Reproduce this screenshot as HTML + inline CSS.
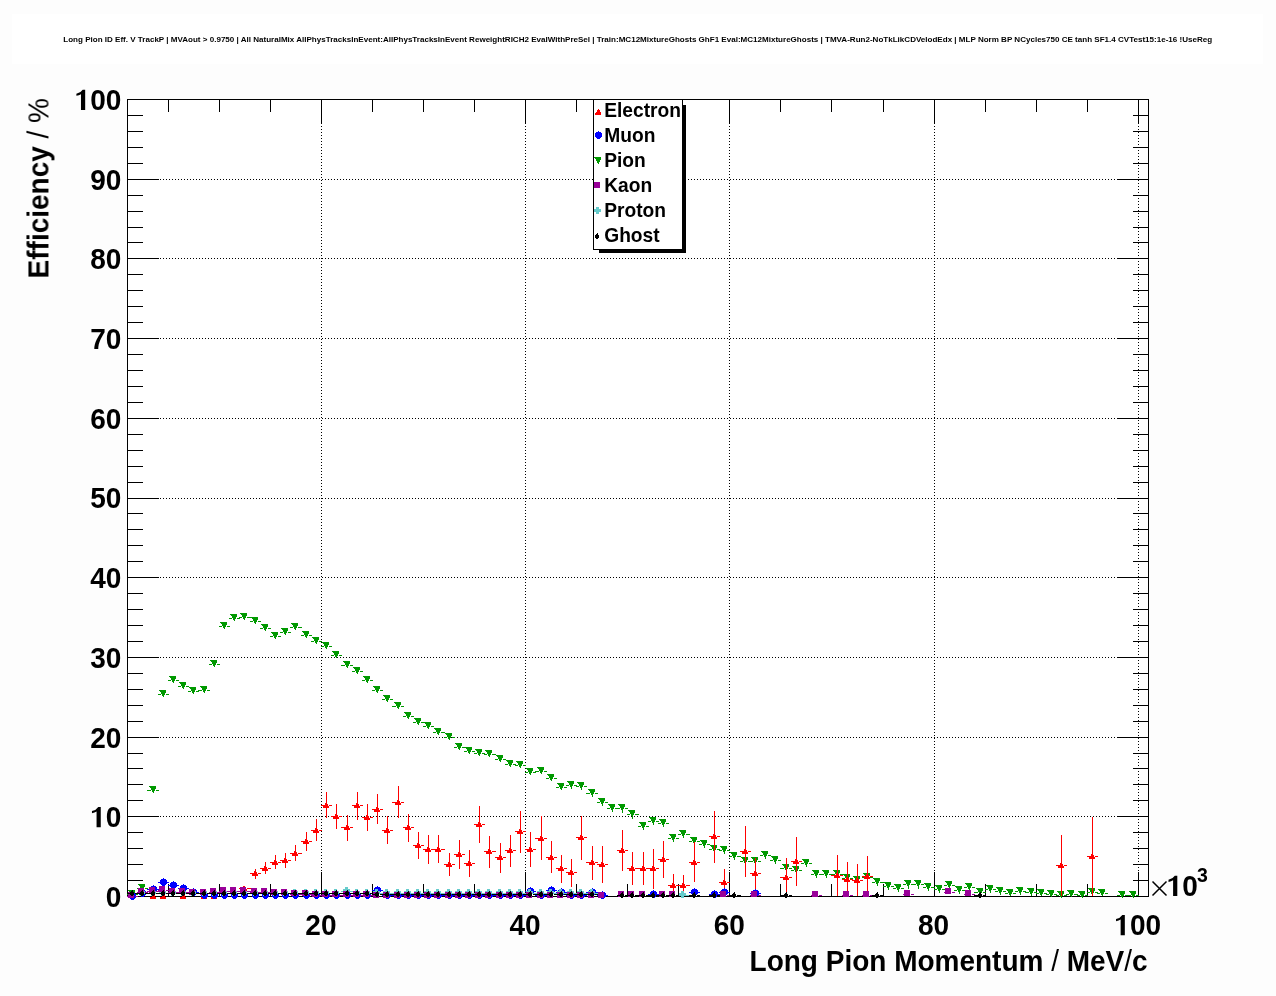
<!DOCTYPE html>
<html><head><meta charset="utf-8"><title>Long Pion ID Eff</title><style>
html,body{margin:0;padding:0;background:#fdfdfd;width:1276px;height:996px;overflow:hidden}
svg{display:block;will-change:transform}
text{font-family:"Liberation Sans",sans-serif;font-weight:bold;fill:#000}
</style></head><body>
<svg width="1276" height="996" viewBox="0 0 1276 996">
<rect x="12" y="14" width="1251" height="50" fill="#ffffff"/>
<text x="637.7" y="41.9" font-size="7.9" text-anchor="middle" textLength="1148.8" lengthAdjust="spacingAndGlyphs">Long Pion ID Eff. V TrackP | MVAout &gt; 0.9750 | All NaturalMix AllPhysTracksInEvent:AllPhysTracksInEvent ReweightRICH2 EvalWithPreSel | Train:MC12MixtureGhosts GhF1 Eval:MC12MixtureGhosts | TMVA-Run2-NoTkLikCDVelodEdx | MLP Norm BP NCycles750 CE tanh SF1.4 CVTest15:1e-16 !UseReg</text>
<rect x="127.5" y="99.5" width="1021.0" height="797.0" fill="#ffffff"/>
<path d="M321.5 100.0V896.0M525.5 100.0V896.0M729.5 100.0V896.0M934.5 100.0V896.0M1138.5 100.0V896.0M128.0 816.5H1148.0M128.0 737.5H1148.0M128.0 657.5H1148.0M128.0 577.5H1148.0M128.0 498.5H1148.0M128.0 418.5H1148.0M128.0 338.5H1148.0M128.0 258.5H1148.0M128.0 179.5H1148.0" stroke="#000" stroke-width="1" stroke-dasharray="1 2" stroke-dashoffset="1" shape-rendering="crispEdges" fill="none"/>
<rect x="127.5" y="99.5" width="1021.0" height="797.0" fill="none" stroke="#000" stroke-width="1" shape-rendering="crispEdges"/>
<path d="M168.5 896.5V883.5M168.5 99.5V111.5M219.5 896.5V883.5M219.5 99.5V111.5M270.5 896.5V883.5M270.5 99.5V111.5M321.5 896.5V871.5M321.5 99.5V123.5M372.5 896.5V883.5M372.5 99.5V111.5M423.5 896.5V883.5M423.5 99.5V111.5M474.5 896.5V883.5M474.5 99.5V111.5M525.5 896.5V871.5M525.5 99.5V123.5M576.5 896.5V883.5M576.5 99.5V111.5M627.5 896.5V883.5M627.5 99.5V111.5M678.5 896.5V883.5M678.5 99.5V111.5M729.5 896.5V871.5M729.5 99.5V123.5M780.5 896.5V883.5M780.5 99.5V111.5M831.5 896.5V883.5M831.5 99.5V111.5M883.5 896.5V883.5M883.5 99.5V111.5M934.5 896.5V871.5M934.5 99.5V123.5M985.5 896.5V883.5M985.5 99.5V111.5M1036.5 896.5V883.5M1036.5 99.5V111.5M1087.5 896.5V883.5M1087.5 99.5V111.5M1138.5 896.5V871.5M1138.5 99.5V123.5M127.5 896.5H158.5M1148.5 896.5H1117.5M127.5 880.5H142.5M1148.5 880.5H1132.5M127.5 864.5H142.5M1148.5 864.5H1132.5M127.5 848.5H142.5M1148.5 848.5H1132.5M127.5 832.5H142.5M1148.5 832.5H1132.5M127.5 816.5H158.5M1148.5 816.5H1117.5M127.5 800.5H142.5M1148.5 800.5H1132.5M127.5 784.5H142.5M1148.5 784.5H1132.5M127.5 768.5H142.5M1148.5 768.5H1132.5M127.5 753.5H142.5M1148.5 753.5H1132.5M127.5 737.5H158.5M1148.5 737.5H1117.5M127.5 721.5H142.5M1148.5 721.5H1132.5M127.5 705.5H142.5M1148.5 705.5H1132.5M127.5 689.5H142.5M1148.5 689.5H1132.5M127.5 673.5H142.5M1148.5 673.5H1132.5M127.5 657.5H158.5M1148.5 657.5H1117.5M127.5 641.5H142.5M1148.5 641.5H1132.5M127.5 625.5H142.5M1148.5 625.5H1132.5M127.5 609.5H142.5M1148.5 609.5H1132.5M127.5 593.5H142.5M1148.5 593.5H1132.5M127.5 577.5H158.5M1148.5 577.5H1117.5M127.5 561.5H142.5M1148.5 561.5H1132.5M127.5 545.5H142.5M1148.5 545.5H1132.5M127.5 529.5H142.5M1148.5 529.5H1132.5M127.5 513.5H142.5M1148.5 513.5H1132.5M127.5 498.5H158.5M1148.5 498.5H1117.5M127.5 482.5H142.5M1148.5 482.5H1132.5M127.5 466.5H142.5M1148.5 466.5H1132.5M127.5 450.5H142.5M1148.5 450.5H1132.5M127.5 434.5H142.5M1148.5 434.5H1132.5M127.5 418.5H158.5M1148.5 418.5H1117.5M127.5 402.5H142.5M1148.5 402.5H1132.5M127.5 386.5H142.5M1148.5 386.5H1132.5M127.5 370.5H142.5M1148.5 370.5H1132.5M127.5 354.5H142.5M1148.5 354.5H1132.5M127.5 338.5H158.5M1148.5 338.5H1117.5M127.5 322.5H142.5M1148.5 322.5H1132.5M127.5 306.5H142.5M1148.5 306.5H1132.5M127.5 290.5H142.5M1148.5 290.5H1132.5M127.5 274.5H142.5M1148.5 274.5H1132.5M127.5 258.5H158.5M1148.5 258.5H1117.5M127.5 242.5H142.5M1148.5 242.5H1132.5M127.5 227.5H142.5M1148.5 227.5H1132.5M127.5 211.5H142.5M1148.5 211.5H1132.5M127.5 195.5H142.5M1148.5 195.5H1132.5M127.5 179.5H158.5M1148.5 179.5H1117.5M127.5 163.5H142.5M1148.5 163.5H1132.5M127.5 147.5H142.5M1148.5 147.5H1132.5M127.5 131.5H142.5M1148.5 131.5H1132.5M127.5 115.5H142.5M1148.5 115.5H1132.5M127.5 99.5H158.5M1148.5 99.5H1117.5" stroke="#000" stroke-width="1" shape-rendering="crispEdges" fill="none"/>
<g clip-path="url(#clp)" shape-rendering="crispEdges">
<defs><clipPath id="clp"><rect x="0" y="0" width="1276" height="900.0"/></clipPath></defs>
<path d="M127 894h3v1h-3ZM135 894h3v1h-3Z" fill="#009900"/><path d="M128 890h7v1h-7ZM129 891h6v1h-6ZM130 892h5v1h-5ZM130 893h4v1h-4ZM131 894h3v1h-3ZM131 895h2v1h-2ZM132 896h1v1h-1Z" fill="#009900"/><path d="M137 888h3v1h-3ZM145 888h3v1h-3Z" fill="#009900"/><path d="M138 884h7v1h-7ZM139 885h6v1h-6ZM140 886h5v1h-5ZM140 887h4v1h-4ZM141 888h3v1h-3ZM141 889h2v1h-2ZM142 890h1v1h-1Z" fill="#009900"/><path d="M147 790h4v1h-4ZM156 790h3v1h-3Z" fill="#009900"/><path d="M149 786h7v1h-7ZM150 787h6v1h-6ZM151 788h5v1h-5ZM151 789h4v1h-4ZM152 790h3v1h-3ZM152 791h2v1h-2ZM153 792h1v1h-1Z" fill="#009900"/><path d="M158 694h3v1h-3ZM166 694h3v1h-3Z" fill="#009900"/><path d="M159 690h7v1h-7ZM160 691h6v1h-6ZM161 692h5v1h-5ZM161 693h4v1h-4ZM162 694h3v1h-3ZM162 695h2v1h-2ZM163 696h1v1h-1Z" fill="#009900"/><path d="M168 680h3v1h-3ZM176 680h3v1h-3Z" fill="#009900"/><path d="M169 676h7v1h-7ZM170 677h6v1h-6ZM171 678h5v1h-5ZM171 679h4v1h-4ZM172 680h3v1h-3ZM172 681h2v1h-2ZM173 682h1v1h-1Z" fill="#009900"/><path d="M178 686h3v1h-3ZM186 686h3v1h-3Z" fill="#009900"/><path d="M179 682h7v1h-7ZM180 683h6v1h-6ZM181 684h5v1h-5ZM181 685h4v1h-4ZM182 686h3v1h-3ZM182 687h2v1h-2ZM183 688h1v1h-1Z" fill="#009900"/><path d="M188 691h3v1h-3ZM196 691h3v1h-3Z" fill="#009900"/><path d="M189 687h7v1h-7ZM190 688h6v1h-6ZM191 689h5v1h-5ZM191 690h4v1h-4ZM192 691h3v1h-3ZM192 692h2v1h-2ZM193 693h1v1h-1Z" fill="#009900"/><path d="M198 690h4v1h-4ZM207 690h3v1h-3Z" fill="#009900"/><path d="M200 686h7v1h-7ZM201 687h6v1h-6ZM202 688h5v1h-5ZM202 689h4v1h-4ZM203 690h3v1h-3ZM203 691h2v1h-2ZM204 692h1v1h-1Z" fill="#009900"/><path d="M209 664h3v1h-3ZM217 664h3v1h-3Z" fill="#009900"/><path d="M210 660h7v1h-7ZM211 661h6v1h-6ZM212 662h5v1h-5ZM212 663h4v1h-4ZM213 664h3v1h-3ZM213 665h2v1h-2ZM214 666h1v1h-1Z" fill="#009900"/><path d="M219 626h3v1h-3ZM227 626h3v1h-3Z" fill="#009900"/><path d="M220 622h7v1h-7ZM221 623h6v1h-6ZM222 624h5v1h-5ZM222 625h4v1h-4ZM223 626h3v1h-3ZM223 627h2v1h-2ZM224 628h1v1h-1Z" fill="#009900"/><path d="M229 618h3v1h-3ZM237 618h3v1h-3Z" fill="#009900"/><path d="M230 614h7v1h-7ZM231 615h6v1h-6ZM232 616h5v1h-5ZM232 617h4v1h-4ZM233 618h3v1h-3ZM233 619h2v1h-2ZM234 620h1v1h-1Z" fill="#009900"/><path d="M239 617h3v1h-3ZM247 617h4v1h-4Z" fill="#009900"/><path d="M240 613h7v1h-7ZM241 614h6v1h-6ZM242 615h5v1h-5ZM242 616h4v1h-4ZM243 617h3v1h-3ZM243 618h2v1h-2ZM244 619h1v1h-1Z" fill="#009900"/><path d="M250 621h3v1h-3ZM258 621h3v1h-3Z" fill="#009900"/><path d="M251 617h7v1h-7ZM252 618h6v1h-6ZM253 619h5v1h-5ZM253 620h4v1h-4ZM254 621h3v1h-3ZM254 622h2v1h-2ZM255 623h1v1h-1Z" fill="#009900"/><path d="M260 628h3v1h-3ZM268 628h3v1h-3Z" fill="#009900"/><path d="M261 624h7v1h-7ZM262 625h6v1h-6ZM263 626h5v1h-5ZM263 627h4v1h-4ZM264 628h3v1h-3ZM264 629h2v1h-2ZM265 630h1v1h-1Z" fill="#009900"/><path d="M270 636h3v1h-3ZM278 636h3v1h-3Z" fill="#009900"/><path d="M271 632h7v1h-7ZM272 633h6v1h-6ZM273 634h5v1h-5ZM273 635h4v1h-4ZM274 636h3v1h-3ZM274 637h2v1h-2ZM275 638h1v1h-1Z" fill="#009900"/><path d="M280 632h3v1h-3ZM288 632h3v1h-3Z" fill="#009900"/><path d="M281 628h7v1h-7ZM282 629h6v1h-6ZM283 630h5v1h-5ZM283 631h4v1h-4ZM284 632h3v1h-3ZM284 633h2v1h-2ZM285 634h1v1h-1Z" fill="#009900"/><path d="M290 627h3v1h-3ZM298 627h4v1h-4Z" fill="#009900"/><path d="M291 623h7v1h-7ZM292 624h6v1h-6ZM293 625h5v1h-5ZM293 626h4v1h-4ZM294 627h3v1h-3ZM294 628h2v1h-2ZM295 629h1v1h-1Z" fill="#009900"/><path d="M301 635h3v1h-3ZM309 635h3v1h-3Z" fill="#009900"/><path d="M302 631h7v1h-7ZM303 632h6v1h-6ZM304 633h5v1h-5ZM304 634h4v1h-4ZM305 635h3v1h-3ZM305 636h2v1h-2ZM306 637h1v1h-1Z" fill="#009900"/><path d="M311 641h3v1h-3ZM319 641h3v1h-3Z" fill="#009900"/><path d="M312 637h7v1h-7ZM313 638h6v1h-6ZM314 639h5v1h-5ZM314 640h4v1h-4ZM315 641h3v1h-3ZM315 642h2v1h-2ZM316 643h1v1h-1Z" fill="#009900"/><path d="M321 646h3v1h-3ZM329 646h3v1h-3Z" fill="#009900"/><path d="M322 642h7v1h-7ZM323 643h6v1h-6ZM324 644h5v1h-5ZM324 645h4v1h-4ZM325 646h3v1h-3ZM325 647h2v1h-2ZM326 648h1v1h-1Z" fill="#009900"/><path d="M331 655h3v1h-3ZM339 655h3v1h-3Z" fill="#009900"/><path d="M332 651h7v1h-7ZM333 652h6v1h-6ZM334 653h5v1h-5ZM334 654h4v1h-4ZM335 655h3v1h-3ZM335 656h2v1h-2ZM336 657h1v1h-1Z" fill="#009900"/><path d="M341 665h4v1h-4ZM350 665h3v1h-3Z" fill="#009900"/><path d="M343 661h7v1h-7ZM344 662h6v1h-6ZM345 663h5v1h-5ZM345 664h4v1h-4ZM346 665h3v1h-3ZM346 666h2v1h-2ZM347 667h1v1h-1Z" fill="#009900"/><path d="M352 671h3v1h-3ZM360 671h3v1h-3Z" fill="#009900"/><path d="M353 667h7v1h-7ZM354 668h6v1h-6ZM355 669h5v1h-5ZM355 670h4v1h-4ZM356 671h3v1h-3ZM356 672h2v1h-2ZM357 673h1v1h-1Z" fill="#009900"/><path d="M362 680h3v1h-3ZM370 680h3v1h-3Z" fill="#009900"/><path d="M363 676h7v1h-7ZM364 677h6v1h-6ZM365 678h5v1h-5ZM365 679h4v1h-4ZM366 680h3v1h-3ZM366 681h2v1h-2ZM367 682h1v1h-1Z" fill="#009900"/><path d="M372 690h3v1h-3ZM380 690h3v1h-3Z" fill="#009900"/><path d="M373 686h7v1h-7ZM374 687h6v1h-6ZM375 688h5v1h-5ZM375 689h4v1h-4ZM376 690h3v1h-3ZM376 691h2v1h-2ZM377 692h1v1h-1Z" fill="#009900"/><path d="M382 699h3v1h-3ZM390 699h3v1h-3Z" fill="#009900"/><path d="M383 695h7v1h-7ZM384 696h6v1h-6ZM385 697h5v1h-5ZM385 698h4v1h-4ZM386 699h3v1h-3ZM386 700h2v1h-2ZM387 701h1v1h-1Z" fill="#009900"/><path d="M392 706h4v1h-4ZM401 706h3v1h-3Z" fill="#009900"/><path d="M394 702h7v1h-7ZM395 703h6v1h-6ZM396 704h5v1h-5ZM396 705h4v1h-4ZM397 706h3v1h-3ZM397 707h2v1h-2ZM398 708h1v1h-1Z" fill="#009900"/><path d="M403 716h3v1h-3ZM411 716h3v1h-3Z" fill="#009900"/><path d="M404 712h7v1h-7ZM405 713h6v1h-6ZM406 714h5v1h-5ZM406 715h4v1h-4ZM407 716h3v1h-3ZM407 717h2v1h-2ZM408 718h1v1h-1Z" fill="#009900"/><path d="M413 722h3v1h-3ZM421 722h3v1h-3Z" fill="#009900"/><path d="M414 718h7v1h-7ZM415 719h6v1h-6ZM416 720h5v1h-5ZM416 721h4v1h-4ZM417 722h3v1h-3ZM417 723h2v1h-2ZM418 724h1v1h-1Z" fill="#009900"/><path d="M423 726h3v1h-3ZM431 726h3v1h-3Z" fill="#009900"/><path d="M424 722h7v1h-7ZM425 723h6v1h-6ZM426 724h5v1h-5ZM426 725h4v1h-4ZM427 726h3v1h-3ZM427 727h2v1h-2ZM428 728h1v1h-1Z" fill="#009900"/><path d="M433 732h3v1h-3ZM441 732h4v1h-4Z" fill="#009900"/><path d="M434 728h7v1h-7ZM435 729h6v1h-6ZM436 730h5v1h-5ZM436 731h4v1h-4ZM437 732h3v1h-3ZM437 733h2v1h-2ZM438 734h1v1h-1Z" fill="#009900"/><path d="M444 737h3v1h-3ZM452 737h3v1h-3Z" fill="#009900"/><path d="M445 733h7v1h-7ZM446 734h6v1h-6ZM447 735h5v1h-5ZM447 736h4v1h-4ZM448 737h3v1h-3ZM448 738h2v1h-2ZM449 739h1v1h-1Z" fill="#009900"/><path d="M454 747h3v1h-3ZM462 747h3v1h-3Z" fill="#009900"/><path d="M455 743h7v1h-7ZM456 744h6v1h-6ZM457 745h5v1h-5ZM457 746h4v1h-4ZM458 747h3v1h-3ZM458 748h2v1h-2ZM459 749h1v1h-1Z" fill="#009900"/><path d="M464 751h3v1h-3ZM472 751h3v1h-3Z" fill="#009900"/><path d="M465 747h7v1h-7ZM466 748h6v1h-6ZM467 749h5v1h-5ZM467 750h4v1h-4ZM468 751h3v1h-3ZM468 752h2v1h-2ZM469 753h1v1h-1Z" fill="#009900"/><path d="M474 753h3v1h-3ZM482 753h3v1h-3Z" fill="#009900"/><path d="M475 749h7v1h-7ZM476 750h6v1h-6ZM477 751h5v1h-5ZM477 752h4v1h-4ZM478 753h3v1h-3ZM478 754h2v1h-2ZM479 755h1v1h-1Z" fill="#009900"/><path d="M484 754h3v1h-3ZM492 754h4v1h-4Z" fill="#009900"/><path d="M485 750h7v1h-7ZM486 751h6v1h-6ZM487 752h5v1h-5ZM487 753h4v1h-4ZM488 754h3v1h-3ZM488 755h2v1h-2ZM489 756h1v1h-1Z" fill="#009900"/><path d="M495 759h3v1h-3ZM503 759h3v1h-3Z" fill="#009900"/><path d="M496 755h7v1h-7ZM497 756h6v1h-6ZM498 757h5v1h-5ZM498 758h4v1h-4ZM499 759h3v1h-3ZM499 760h2v1h-2ZM500 761h1v1h-1Z" fill="#009900"/><path d="M505 764h3v1h-3ZM513 764h3v1h-3Z" fill="#009900"/><path d="M506 760h7v1h-7ZM507 761h6v1h-6ZM508 762h5v1h-5ZM508 763h4v1h-4ZM509 764h3v1h-3ZM509 765h2v1h-2ZM510 766h1v1h-1Z" fill="#009900"/><path d="M515 765h3v1h-3ZM523 765h3v1h-3Z" fill="#009900"/><path d="M516 761h7v1h-7ZM517 762h6v1h-6ZM518 763h5v1h-5ZM518 764h4v1h-4ZM519 765h3v1h-3ZM519 766h2v1h-2ZM520 767h1v1h-1Z" fill="#009900"/><path d="M525 772h3v1h-3ZM533 772h3v1h-3Z" fill="#009900"/><path d="M526 768h7v1h-7ZM527 769h6v1h-6ZM528 770h5v1h-5ZM528 771h4v1h-4ZM529 772h3v1h-3ZM529 773h2v1h-2ZM530 774h1v1h-1Z" fill="#009900"/><path d="M535 771h4v1h-4ZM544 771h3v1h-3Z" fill="#009900"/><path d="M537 767h7v1h-7ZM538 768h6v1h-6ZM539 769h5v1h-5ZM539 770h4v1h-4ZM540 771h3v1h-3ZM540 772h2v1h-2ZM541 773h1v1h-1Z" fill="#009900"/><path d="M546 778h3v1h-3ZM554 778h3v1h-3Z" fill="#009900"/><path d="M547 774h7v1h-7ZM548 775h6v1h-6ZM549 776h5v1h-5ZM549 777h4v1h-4ZM550 778h3v1h-3ZM550 779h2v1h-2ZM551 780h1v1h-1Z" fill="#009900"/><path d="M556 787h3v1h-3ZM564 787h3v1h-3Z" fill="#009900"/><path d="M557 783h7v1h-7ZM558 784h6v1h-6ZM559 785h5v1h-5ZM559 786h4v1h-4ZM560 787h3v1h-3ZM560 788h2v1h-2ZM561 789h1v1h-1Z" fill="#009900"/><path d="M566 785h3v1h-3ZM574 785h3v1h-3Z" fill="#009900"/><path d="M567 781h7v1h-7ZM568 782h6v1h-6ZM569 783h5v1h-5ZM569 784h4v1h-4ZM570 785h3v1h-3ZM570 786h2v1h-2ZM571 787h1v1h-1Z" fill="#009900"/><path d="M576 786h3v1h-3ZM584 786h3v1h-3Z" fill="#009900"/><path d="M577 782h7v1h-7ZM578 783h6v1h-6ZM579 784h5v1h-5ZM579 785h4v1h-4ZM580 786h3v1h-3ZM580 787h2v1h-2ZM581 788h1v1h-1Z" fill="#009900"/><path d="M586 793h4v1h-4ZM595 793h3v1h-3Z" fill="#009900"/><path d="M588 789h7v1h-7ZM589 790h6v1h-6ZM590 791h5v1h-5ZM590 792h4v1h-4ZM591 793h3v1h-3ZM591 794h2v1h-2ZM592 795h1v1h-1Z" fill="#009900"/><path d="M597 802h3v1h-3ZM605 802h3v1h-3Z" fill="#009900"/><path d="M598 798h7v1h-7ZM599 799h6v1h-6ZM600 800h5v1h-5ZM600 801h4v1h-4ZM601 802h3v1h-3ZM601 803h2v1h-2ZM602 804h1v1h-1Z" fill="#009900"/><path d="M607 808h3v1h-3ZM615 808h3v1h-3Z" fill="#009900"/><path d="M608 804h7v1h-7ZM609 805h6v1h-6ZM610 806h5v1h-5ZM610 807h4v1h-4ZM611 808h3v1h-3ZM611 809h2v1h-2ZM612 810h1v1h-1Z" fill="#009900"/><path d="M617 808h3v1h-3ZM625 808h3v1h-3Z" fill="#009900"/><path d="M618 804h7v1h-7ZM619 805h6v1h-6ZM620 806h5v1h-5ZM620 807h4v1h-4ZM621 808h3v1h-3ZM621 809h2v1h-2ZM622 810h1v1h-1Z" fill="#009900"/><path d="M627 814h3v1h-3ZM635 814h4v1h-4Z" fill="#009900"/><path d="M628 810h7v1h-7ZM629 811h6v1h-6ZM630 812h5v1h-5ZM630 813h4v1h-4ZM631 814h3v1h-3ZM631 815h2v1h-2ZM632 816h1v1h-1Z" fill="#009900"/><path d="M638 826h3v1h-3ZM646 826h3v1h-3Z" fill="#009900"/><path d="M639 822h7v1h-7ZM640 823h6v1h-6ZM641 824h5v1h-5ZM641 825h4v1h-4ZM642 826h3v1h-3ZM642 827h2v1h-2ZM643 828h1v1h-1Z" fill="#009900"/><path d="M648 821h3v1h-3ZM656 821h3v1h-3Z" fill="#009900"/><path d="M649 817h7v1h-7ZM650 818h6v1h-6ZM651 819h5v1h-5ZM651 820h4v1h-4ZM652 821h3v1h-3ZM652 822h2v1h-2ZM653 823h1v1h-1Z" fill="#009900"/><path d="M658 823h3v1h-3ZM666 823h3v1h-3Z" fill="#009900"/><path d="M659 819h7v1h-7ZM660 820h6v1h-6ZM661 821h5v1h-5ZM661 822h4v1h-4ZM662 823h3v1h-3ZM662 824h2v1h-2ZM663 825h1v1h-1Z" fill="#009900"/><path d="M668 838h3v1h-3ZM676 838h3v1h-3Z" fill="#009900"/><path d="M669 834h7v1h-7ZM670 835h6v1h-6ZM671 836h5v1h-5ZM671 837h4v1h-4ZM672 838h3v1h-3ZM672 839h2v1h-2ZM673 840h1v1h-1Z" fill="#009900"/><path d="M678 834h3v1h-3ZM686 834h4v1h-4Z" fill="#009900"/><path d="M679 830h7v1h-7ZM680 831h6v1h-6ZM681 832h5v1h-5ZM681 833h4v1h-4ZM682 834h3v1h-3ZM682 835h2v1h-2ZM683 836h1v1h-1Z" fill="#009900"/><path d="M689 841h3v1h-3ZM697 841h3v1h-3Z" fill="#009900"/><path d="M690 837h7v1h-7ZM691 838h6v1h-6ZM692 839h5v1h-5ZM692 840h4v1h-4ZM693 841h3v1h-3ZM693 842h2v1h-2ZM694 843h1v1h-1Z" fill="#009900"/><path d="M699 844h3v1h-3ZM707 844h3v1h-3Z" fill="#009900"/><path d="M700 840h7v1h-7ZM701 841h6v1h-6ZM702 842h5v1h-5ZM702 843h4v1h-4ZM703 844h3v1h-3ZM703 845h2v1h-2ZM704 846h1v1h-1Z" fill="#009900"/><path d="M709 849h3v1h-3ZM717 849h3v1h-3Z" fill="#009900"/><path d="M710 845h7v1h-7ZM711 846h6v1h-6ZM712 847h5v1h-5ZM712 848h4v1h-4ZM713 849h3v1h-3ZM713 850h2v1h-2ZM714 851h1v1h-1Z" fill="#009900"/><path d="M719 850h3v1h-3ZM727 850h3v1h-3Z" fill="#009900"/><path d="M720 846h7v1h-7ZM721 847h6v1h-6ZM722 848h5v1h-5ZM722 849h4v1h-4ZM723 850h3v1h-3ZM723 851h2v1h-2ZM724 852h1v1h-1Z" fill="#009900"/><path d="M729 856h3v1h-3ZM737 856h4v1h-4Z" fill="#009900"/><path d="M730 852h7v1h-7ZM731 853h6v1h-6ZM732 854h5v1h-5ZM732 855h4v1h-4ZM733 856h3v1h-3ZM733 857h2v1h-2ZM734 858h1v1h-1Z" fill="#009900"/><path d="M740 861h3v1h-3ZM748 861h3v1h-3Z" fill="#009900"/><path d="M741 857h7v1h-7ZM742 858h6v1h-6ZM743 859h5v1h-5ZM743 860h4v1h-4ZM744 861h3v1h-3ZM744 862h2v1h-2ZM745 863h1v1h-1Z" fill="#009900"/><path d="M750 861h3v1h-3ZM758 861h3v1h-3Z" fill="#009900"/><path d="M751 857h7v1h-7ZM752 858h6v1h-6ZM753 859h5v1h-5ZM753 860h4v1h-4ZM754 861h3v1h-3ZM754 862h2v1h-2ZM755 863h1v1h-1Z" fill="#009900"/><path d="M760 855h3v1h-3ZM768 855h3v1h-3Z" fill="#009900"/><path d="M761 851h7v1h-7ZM762 852h6v1h-6ZM763 853h5v1h-5ZM763 854h4v1h-4ZM764 855h3v1h-3ZM764 856h2v1h-2ZM765 857h1v1h-1Z" fill="#009900"/><path d="M770 860h3v1h-3ZM778 860h3v1h-3Z" fill="#009900"/><path d="M771 856h7v1h-7ZM772 857h6v1h-6ZM773 858h5v1h-5ZM773 859h4v1h-4ZM774 860h3v1h-3ZM774 861h2v1h-2ZM775 862h1v1h-1Z" fill="#009900"/><path d="M780 868h4v1h-4ZM789 868h3v1h-3Z" fill="#009900"/><path d="M782 864h7v1h-7ZM783 865h6v1h-6ZM784 866h5v1h-5ZM784 867h4v1h-4ZM785 868h3v1h-3ZM785 869h2v1h-2ZM786 870h1v1h-1Z" fill="#009900"/><path d="M791 870h3v1h-3ZM799 870h3v1h-3Z" fill="#009900"/><path d="M792 866h7v1h-7ZM793 867h6v1h-6ZM794 868h5v1h-5ZM794 869h4v1h-4ZM795 870h3v1h-3ZM795 871h2v1h-2ZM796 872h1v1h-1Z" fill="#009900"/><path d="M801 863h3v1h-3ZM809 863h3v1h-3Z" fill="#009900"/><path d="M802 859h7v1h-7ZM803 860h6v1h-6ZM804 861h5v1h-5ZM804 862h4v1h-4ZM805 863h3v1h-3ZM805 864h2v1h-2ZM806 865h1v1h-1Z" fill="#009900"/><path d="M811 874h3v1h-3ZM819 874h3v1h-3Z" fill="#009900"/><path d="M812 870h7v1h-7ZM813 871h6v1h-6ZM814 872h5v1h-5ZM814 873h4v1h-4ZM815 874h3v1h-3ZM815 875h2v1h-2ZM816 876h1v1h-1Z" fill="#009900"/><path d="M821 874h3v1h-3ZM829 874h3v1h-3Z" fill="#009900"/><path d="M822 870h7v1h-7ZM823 871h6v1h-6ZM824 872h5v1h-5ZM824 873h4v1h-4ZM825 874h3v1h-3ZM825 875h2v1h-2ZM826 876h1v1h-1Z" fill="#009900"/><path d="M831 874h4v1h-4ZM840 874h3v1h-3Z" fill="#009900"/><path d="M833 870h7v1h-7ZM834 871h6v1h-6ZM835 872h5v1h-5ZM835 873h4v1h-4ZM836 874h3v1h-3ZM836 875h2v1h-2ZM837 876h1v1h-1Z" fill="#009900"/><path d="M842 878h3v1h-3ZM850 878h3v1h-3Z" fill="#009900"/><path d="M843 874h7v1h-7ZM844 875h6v1h-6ZM845 876h5v1h-5ZM845 877h4v1h-4ZM846 878h3v1h-3ZM846 879h2v1h-2ZM847 880h1v1h-1Z" fill="#009900"/><path d="M852 880h3v1h-3ZM860 880h3v1h-3Z" fill="#009900"/><path d="M853 876h7v1h-7ZM854 877h6v1h-6ZM855 878h5v1h-5ZM855 879h4v1h-4ZM856 880h3v1h-3ZM856 881h2v1h-2ZM857 882h1v1h-1Z" fill="#009900"/><path d="M862 877h3v1h-3ZM870 877h3v1h-3Z" fill="#009900"/><path d="M863 873h7v1h-7ZM864 874h6v1h-6ZM865 875h5v1h-5ZM865 876h4v1h-4ZM866 877h3v1h-3ZM866 878h2v1h-2ZM867 879h1v1h-1Z" fill="#009900"/><path d="M872 882h3v1h-3ZM880 882h4v1h-4Z" fill="#009900"/><path d="M873 878h7v1h-7ZM874 879h6v1h-6ZM875 880h5v1h-5ZM875 881h4v1h-4ZM876 882h3v1h-3ZM876 883h2v1h-2ZM877 884h1v1h-1Z" fill="#009900"/><path d="M883 886h3v1h-3ZM891 886h3v1h-3Z" fill="#009900"/><path d="M884 882h7v1h-7ZM885 883h6v1h-6ZM886 884h5v1h-5ZM886 885h4v1h-4ZM887 886h3v1h-3ZM887 887h2v1h-2ZM888 888h1v1h-1Z" fill="#009900"/><path d="M893 888h3v1h-3ZM901 888h3v1h-3Z" fill="#009900"/><path d="M894 884h7v1h-7ZM895 885h6v1h-6ZM896 886h5v1h-5ZM896 887h4v1h-4ZM897 888h3v1h-3ZM897 889h2v1h-2ZM898 890h1v1h-1Z" fill="#009900"/><path d="M903 884h3v1h-3ZM911 884h3v1h-3Z" fill="#009900"/><path d="M904 880h7v1h-7ZM905 881h6v1h-6ZM906 882h5v1h-5ZM906 883h4v1h-4ZM907 884h3v1h-3ZM907 885h2v1h-2ZM908 886h1v1h-1Z" fill="#009900"/><path d="M913 884h3v1h-3ZM921 884h3v1h-3Z" fill="#009900"/><path d="M914 880h7v1h-7ZM915 881h6v1h-6ZM916 882h5v1h-5ZM916 883h4v1h-4ZM917 884h3v1h-3ZM917 885h2v1h-2ZM918 886h1v1h-1Z" fill="#009900"/><path d="M923 887h3v1h-3ZM931 887h4v1h-4Z" fill="#009900"/><path d="M924 883h7v1h-7ZM925 884h6v1h-6ZM926 885h5v1h-5ZM926 886h4v1h-4ZM927 887h3v1h-3ZM927 888h2v1h-2ZM928 889h1v1h-1Z" fill="#009900"/><path d="M934 889h3v1h-3ZM942 889h3v1h-3Z" fill="#009900"/><path d="M935 885h7v1h-7ZM936 886h6v1h-6ZM937 887h5v1h-5ZM937 888h4v1h-4ZM938 889h3v1h-3ZM938 890h2v1h-2ZM939 891h1v1h-1Z" fill="#009900"/><path d="M944 885h3v1h-3ZM952 885h3v1h-3Z" fill="#009900"/><path d="M945 881h7v1h-7ZM946 882h6v1h-6ZM947 883h5v1h-5ZM947 884h4v1h-4ZM948 885h3v1h-3ZM948 886h2v1h-2ZM949 887h1v1h-1Z" fill="#009900"/><path d="M954 890h3v1h-3ZM962 890h3v1h-3Z" fill="#009900"/><path d="M955 886h7v1h-7ZM956 887h6v1h-6ZM957 888h5v1h-5ZM957 889h4v1h-4ZM958 890h3v1h-3ZM958 891h2v1h-2ZM959 892h1v1h-1Z" fill="#009900"/><path d="M964 887h3v1h-3ZM972 887h3v1h-3Z" fill="#009900"/><path d="M965 883h7v1h-7ZM966 884h6v1h-6ZM967 885h5v1h-5ZM967 886h4v1h-4ZM968 887h3v1h-3ZM968 888h2v1h-2ZM969 889h1v1h-1Z" fill="#009900"/><path d="M974 892h4v1h-4ZM983 892h3v1h-3Z" fill="#009900"/><path d="M976 888h7v1h-7ZM977 889h6v1h-6ZM978 890h5v1h-5ZM978 891h4v1h-4ZM979 892h3v1h-3ZM979 893h2v1h-2ZM980 894h1v1h-1Z" fill="#009900"/><path d="M985 889h3v1h-3ZM993 889h3v1h-3Z" fill="#009900"/><path d="M986 885h7v1h-7ZM987 886h6v1h-6ZM988 887h5v1h-5ZM988 888h4v1h-4ZM989 889h3v1h-3ZM989 890h2v1h-2ZM990 891h1v1h-1Z" fill="#009900"/><path d="M995 891h3v1h-3ZM1003 891h3v1h-3Z" fill="#009900"/><path d="M996 887h7v1h-7ZM997 888h6v1h-6ZM998 889h5v1h-5ZM998 890h4v1h-4ZM999 891h3v1h-3ZM999 892h2v1h-2ZM1000 893h1v1h-1Z" fill="#009900"/><path d="M1005 893h3v1h-3ZM1013 893h3v1h-3Z" fill="#009900"/><path d="M1006 889h7v1h-7ZM1007 890h6v1h-6ZM1008 891h5v1h-5ZM1008 892h4v1h-4ZM1009 893h3v1h-3ZM1009 894h2v1h-2ZM1010 895h1v1h-1Z" fill="#009900"/><path d="M1015 891h3v1h-3ZM1023 891h3v1h-3Z" fill="#009900"/><path d="M1016 887h7v1h-7ZM1017 888h6v1h-6ZM1018 889h5v1h-5ZM1018 890h4v1h-4ZM1019 891h3v1h-3ZM1019 892h2v1h-2ZM1020 893h1v1h-1Z" fill="#009900"/><path d="M1025 892h4v1h-4ZM1034 892h3v1h-3Z" fill="#009900"/><path d="M1027 888h7v1h-7ZM1028 889h6v1h-6ZM1029 890h5v1h-5ZM1029 891h4v1h-4ZM1030 892h3v1h-3ZM1030 893h2v1h-2ZM1031 894h1v1h-1Z" fill="#009900"/><path d="M1036 893h3v1h-3ZM1044 893h3v1h-3Z" fill="#009900"/><path d="M1037 889h7v1h-7ZM1038 890h6v1h-6ZM1039 891h5v1h-5ZM1039 892h4v1h-4ZM1040 893h3v1h-3ZM1040 894h2v1h-2ZM1041 895h1v1h-1Z" fill="#009900"/><path d="M1046 894h3v1h-3ZM1054 894h3v1h-3Z" fill="#009900"/><path d="M1047 890h7v1h-7ZM1048 891h6v1h-6ZM1049 892h5v1h-5ZM1049 893h4v1h-4ZM1050 894h3v1h-3ZM1050 895h2v1h-2ZM1051 896h1v1h-1Z" fill="#009900"/><path d="M1056 895h3v1h-3ZM1064 895h3v1h-3Z" fill="#009900"/><path d="M1057 891h7v1h-7ZM1058 892h6v1h-6ZM1059 893h5v1h-5ZM1059 894h4v1h-4ZM1060 895h3v1h-3ZM1060 896h2v1h-2ZM1061 897h1v1h-1Z" fill="#009900"/><path d="M1066 894h3v1h-3ZM1074 894h4v1h-4Z" fill="#009900"/><path d="M1067 890h7v1h-7ZM1068 891h6v1h-6ZM1069 892h5v1h-5ZM1069 893h4v1h-4ZM1070 894h3v1h-3ZM1070 895h2v1h-2ZM1071 896h1v1h-1Z" fill="#009900"/><path d="M1077 895h3v1h-3ZM1085 895h3v1h-3Z" fill="#009900"/><path d="M1078 891h7v1h-7ZM1079 892h6v1h-6ZM1080 893h5v1h-5ZM1080 894h4v1h-4ZM1081 895h3v1h-3ZM1081 896h2v1h-2ZM1082 897h1v1h-1Z" fill="#009900"/><path d="M1087 892h3v1h-3ZM1095 892h3v1h-3Z" fill="#009900"/><path d="M1088 888h7v1h-7ZM1089 889h6v1h-6ZM1090 890h5v1h-5ZM1090 891h4v1h-4ZM1091 892h3v1h-3ZM1091 893h2v1h-2ZM1092 894h1v1h-1Z" fill="#009900"/><path d="M1097 893h3v1h-3ZM1105 893h3v1h-3Z" fill="#009900"/><path d="M1098 889h7v1h-7ZM1099 890h6v1h-6ZM1100 891h5v1h-5ZM1100 892h4v1h-4ZM1101 893h3v1h-3ZM1101 894h2v1h-2ZM1102 895h1v1h-1Z" fill="#009900"/><path d="M1117 895h3v1h-3ZM1125 895h4v1h-4Z" fill="#009900"/><path d="M1118 891h7v1h-7ZM1119 892h6v1h-6ZM1120 893h5v1h-5ZM1120 894h4v1h-4ZM1121 895h3v1h-3ZM1121 896h2v1h-2ZM1122 897h1v1h-1Z" fill="#009900"/><path d="M1128 895h3v1h-3ZM1136 895h3v1h-3Z" fill="#009900"/><path d="M1129 891h7v1h-7ZM1130 892h6v1h-6ZM1131 893h5v1h-5ZM1131 894h4v1h-4ZM1132 895h3v1h-3ZM1132 896h2v1h-2ZM1133 897h1v1h-1Z" fill="#009900"/>
<path d="M571 788h1v1h-1Z" fill="#009900"/><path d="M581 789h1v1h-1Z" fill="#009900"/><path d="M592 796h1v1h-1Z" fill="#009900"/><path d="M602 805h1v1h-1Z" fill="#009900"/><path d="M612 811h1v1h-1Z" fill="#009900"/><path d="M622 811h1v2h-1Z" fill="#009900"/><path d="M632 817h1v2h-1Z" fill="#009900"/><path d="M643 829h1v1h-1Z" fill="#009900"/><path d="M653 824h1v1h-1Z" fill="#009900"/><path d="M663 826h1v1h-1Z" fill="#009900"/><path d="M673 841h1v1h-1Z" fill="#009900"/><path d="M683 837h1v1h-1Z" fill="#009900"/><path d="M694 844h1v1h-1Z" fill="#009900"/><path d="M704 847h1v1h-1Z" fill="#009900"/><path d="M714 852h1v1h-1Z" fill="#009900"/><path d="M724 853h1v1h-1Z" fill="#009900"/><path d="M734 859h1v1h-1Z" fill="#009900"/><path d="M745 864h1v1h-1Z" fill="#009900"/><path d="M755 864h1v1h-1Z" fill="#009900"/><path d="M765 858h1v1h-1Z" fill="#009900"/><path d="M775 863h1v1h-1Z" fill="#009900"/><path d="M786 871h1v1h-1Z" fill="#009900"/><path d="M796 873h1v1h-1Z" fill="#009900"/><path d="M806 866h1v1h-1Z" fill="#009900"/><path d="M816 877h1v1h-1Z" fill="#009900"/><path d="M826 877h1v1h-1Z" fill="#009900"/><path d="M837 877h1v1h-1Z" fill="#009900"/><path d="M847 881h1v1h-1Z" fill="#009900"/><path d="M857 883h1v1h-1Z" fill="#009900"/><path d="M867 880h1v1h-1Z" fill="#009900"/><path d="M877 885h1v1h-1Z" fill="#009900"/><path d="M888 889h1v1h-1Z" fill="#009900"/><path d="M898 891h1v1h-1Z" fill="#009900"/><path d="M908 887h1v2h-1Z" fill="#009900"/><path d="M918 887h1v2h-1Z" fill="#009900"/><path d="M928 890h1v1h-1Z" fill="#009900"/><path d="M939 892h1v1h-1Z" fill="#009900"/><path d="M949 888h1v1h-1Z" fill="#009900"/><path d="M959 893h1v1h-1Z" fill="#009900"/><path d="M969 890h1v1h-1Z" fill="#009900"/><path d="M980 895h1v1h-1Z" fill="#009900"/><path d="M990 892h1v1h-1Z" fill="#009900"/><path d="M1000 894h1v1h-1Z" fill="#009900"/><path d="M1020 894h1v1h-1Z" fill="#009900"/><path d="M1031 895h1v1h-1Z" fill="#009900"/><path d="M1092 895h1v1h-1Z" fill="#009900"/>
<path d="M152 894h2v1h-2ZM152 895h3v1h-3ZM152 896h3v1h-3ZM150 897h6v1h-6ZM150 898h6v1h-6Z" fill="#ff0000"/><path d="M162 894h2v1h-2ZM162 895h3v1h-3ZM162 896h3v1h-3ZM160 897h6v1h-6ZM160 898h6v1h-6Z" fill="#ff0000"/><path d="M182 894h2v1h-2ZM182 895h3v1h-3ZM182 896h3v1h-3ZM180 897h6v1h-6ZM180 898h6v1h-6Z" fill="#ff0000"/><path d="M203 894h2v1h-2ZM203 895h3v1h-3ZM203 896h3v1h-3ZM201 897h6v1h-6ZM201 898h6v1h-6Z" fill="#ff0000"/><path d="M213 894h2v1h-2ZM213 895h3v1h-3ZM213 896h3v1h-3ZM211 897h6v1h-6ZM211 898h6v1h-6Z" fill="#ff0000"/><path d="M239 888h4v1h-4ZM247 888h4v1h-4Z" fill="#ff0000"/><path d="M243 886h2v1h-2ZM243 887h3v1h-3ZM243 888h3v1h-3ZM241 889h6v1h-6ZM241 890h6v1h-6Z" fill="#ff0000"/><path d="M250 873h4v1h-4ZM258 873h3v1h-3Z" fill="#ff0000"/><path d="M255 869h1v2h-1ZM255 876h1v3h-1Z" fill="#ff0000"/><path d="M254 871h2v1h-2ZM254 872h3v1h-3ZM254 873h3v1h-3ZM252 874h6v1h-6ZM252 875h6v1h-6Z" fill="#ff0000"/><path d="M260 868h4v1h-4ZM268 868h3v1h-3Z" fill="#ff0000"/><path d="M265 862h1v4h-1ZM265 871h1v3h-1Z" fill="#ff0000"/><path d="M264 866h2v1h-2ZM264 867h3v1h-3ZM264 868h3v1h-3ZM262 869h6v1h-6ZM262 870h6v1h-6Z" fill="#ff0000"/><path d="M270 862h4v1h-4ZM278 862h3v1h-3Z" fill="#ff0000"/><path d="M275 855h1v5h-1ZM275 865h1v4h-1Z" fill="#ff0000"/><path d="M274 860h2v1h-2ZM274 861h3v1h-3ZM274 862h3v1h-3ZM272 863h6v1h-6ZM272 864h6v1h-6Z" fill="#ff0000"/><path d="M280 860h4v1h-4ZM288 860h3v1h-3Z" fill="#ff0000"/><path d="M285 853h1v5h-1ZM285 863h1v5h-1Z" fill="#ff0000"/><path d="M284 858h2v1h-2ZM284 859h3v1h-3ZM284 860h3v1h-3ZM282 861h6v1h-6ZM282 862h6v1h-6Z" fill="#ff0000"/><path d="M290 853h4v1h-4ZM298 853h4v1h-4Z" fill="#ff0000"/><path d="M295 845h1v6h-1ZM295 856h1v5h-1Z" fill="#ff0000"/><path d="M294 851h2v1h-2ZM294 852h3v1h-3ZM294 853h3v1h-3ZM292 854h6v1h-6ZM292 855h6v1h-6Z" fill="#ff0000"/><path d="M301 841h4v1h-4ZM309 841h3v1h-3Z" fill="#ff0000"/><path d="M306 832h1v7h-1ZM306 844h1v7h-1Z" fill="#ff0000"/><path d="M305 839h2v1h-2ZM305 840h3v1h-3ZM305 841h3v1h-3ZM303 842h6v1h-6ZM303 843h6v1h-6Z" fill="#ff0000"/><path d="M311 830h4v1h-4ZM319 830h3v1h-3Z" fill="#ff0000"/><path d="M316 819h1v9h-1ZM316 833h1v8h-1Z" fill="#ff0000"/><path d="M315 828h2v1h-2ZM315 829h3v1h-3ZM315 830h3v1h-3ZM313 831h6v1h-6ZM313 832h6v1h-6Z" fill="#ff0000"/><path d="M321 805h4v1h-4ZM329 805h3v1h-3Z" fill="#ff0000"/><path d="M326 792h1v11h-1ZM326 808h1v10h-1Z" fill="#ff0000"/><path d="M325 803h2v1h-2ZM325 804h3v1h-3ZM325 805h3v1h-3ZM323 806h6v1h-6ZM323 807h6v1h-6Z" fill="#ff0000"/><path d="M331 816h4v1h-4ZM339 816h3v1h-3Z" fill="#ff0000"/><path d="M336 804h1v10h-1ZM336 819h1v10h-1Z" fill="#ff0000"/><path d="M335 814h2v1h-2ZM335 815h3v1h-3ZM335 816h3v1h-3ZM333 817h6v1h-6ZM333 818h6v1h-6Z" fill="#ff0000"/><path d="M341 827h5v1h-5ZM350 827h3v1h-3Z" fill="#ff0000"/><path d="M347 815h1v10h-1ZM347 830h1v11h-1Z" fill="#ff0000"/><path d="M346 825h2v1h-2ZM346 826h3v1h-3ZM346 827h3v1h-3ZM344 828h6v1h-6ZM344 829h6v1h-6Z" fill="#ff0000"/><path d="M352 805h4v1h-4ZM360 805h3v1h-3Z" fill="#ff0000"/><path d="M357 792h1v11h-1ZM357 808h1v12h-1Z" fill="#ff0000"/><path d="M356 803h2v1h-2ZM356 804h3v1h-3ZM356 805h3v1h-3ZM354 806h6v1h-6ZM354 807h6v1h-6Z" fill="#ff0000"/><path d="M362 817h4v1h-4ZM370 817h3v1h-3Z" fill="#ff0000"/><path d="M367 804h1v11h-1ZM367 820h1v11h-1Z" fill="#ff0000"/><path d="M366 815h2v1h-2ZM366 816h3v1h-3ZM366 817h3v1h-3ZM364 818h6v1h-6ZM364 819h6v1h-6Z" fill="#ff0000"/><path d="M372 809h4v1h-4ZM380 809h3v1h-3Z" fill="#ff0000"/><path d="M377 794h1v13h-1ZM377 812h1v12h-1Z" fill="#ff0000"/><path d="M376 807h2v1h-2ZM376 808h3v1h-3ZM376 809h3v1h-3ZM374 810h6v1h-6ZM374 811h6v1h-6Z" fill="#ff0000"/><path d="M382 830h4v1h-4ZM390 830h3v1h-3Z" fill="#ff0000"/><path d="M387 816h1v12h-1ZM387 833h1v11h-1Z" fill="#ff0000"/><path d="M386 828h2v1h-2ZM386 829h3v1h-3ZM386 830h3v1h-3ZM384 831h6v1h-6ZM384 832h6v1h-6Z" fill="#ff0000"/><path d="M392 802h5v1h-5ZM401 802h3v1h-3Z" fill="#ff0000"/><path d="M398 786h1v14h-1ZM398 805h1v13h-1Z" fill="#ff0000"/><path d="M397 800h2v1h-2ZM397 801h3v1h-3ZM397 802h3v1h-3ZM395 803h6v1h-6ZM395 804h6v1h-6Z" fill="#ff0000"/><path d="M403 827h4v1h-4ZM411 827h3v1h-3Z" fill="#ff0000"/><path d="M408 814h1v11h-1ZM408 830h1v12h-1Z" fill="#ff0000"/><path d="M407 825h2v1h-2ZM407 826h3v1h-3ZM407 827h3v1h-3ZM405 828h6v1h-6ZM405 829h6v1h-6Z" fill="#ff0000"/><path d="M413 845h4v1h-4ZM421 845h3v1h-3Z" fill="#ff0000"/><path d="M418 832h1v11h-1ZM418 848h1v11h-1Z" fill="#ff0000"/><path d="M417 843h2v1h-2ZM417 844h3v1h-3ZM417 845h3v1h-3ZM415 846h6v1h-6ZM415 847h6v1h-6Z" fill="#ff0000"/><path d="M423 849h4v1h-4ZM431 849h3v1h-3Z" fill="#ff0000"/><path d="M428 835h1v12h-1ZM428 852h1v12h-1Z" fill="#ff0000"/><path d="M427 847h2v1h-2ZM427 848h3v1h-3ZM427 849h3v1h-3ZM425 850h6v1h-6ZM425 851h6v1h-6Z" fill="#ff0000"/><path d="M433 849h4v1h-4ZM441 849h4v1h-4Z" fill="#ff0000"/><path d="M438 835h1v12h-1ZM438 852h1v11h-1Z" fill="#ff0000"/><path d="M437 847h2v1h-2ZM437 848h3v1h-3ZM437 849h3v1h-3ZM435 850h6v1h-6ZM435 851h6v1h-6Z" fill="#ff0000"/><path d="M444 864h4v1h-4ZM452 864h3v1h-3Z" fill="#ff0000"/><path d="M449 853h1v9h-1ZM449 867h1v9h-1Z" fill="#ff0000"/><path d="M448 862h2v1h-2ZM448 863h3v1h-3ZM448 864h3v1h-3ZM446 865h6v1h-6ZM446 866h6v1h-6Z" fill="#ff0000"/><path d="M454 854h4v1h-4ZM462 854h3v1h-3Z" fill="#ff0000"/><path d="M459 840h1v12h-1ZM459 857h1v12h-1Z" fill="#ff0000"/><path d="M458 852h2v1h-2ZM458 853h3v1h-3ZM458 854h3v1h-3ZM456 855h6v1h-6ZM456 856h6v1h-6Z" fill="#ff0000"/><path d="M464 863h4v1h-4ZM472 863h3v1h-3Z" fill="#ff0000"/><path d="M469 850h1v11h-1ZM469 866h1v11h-1Z" fill="#ff0000"/><path d="M468 861h2v1h-2ZM468 862h3v1h-3ZM468 863h3v1h-3ZM466 864h6v1h-6ZM466 865h6v1h-6Z" fill="#ff0000"/><path d="M474 824h4v1h-4ZM482 824h3v1h-3Z" fill="#ff0000"/><path d="M479 806h1v16h-1ZM479 827h1v16h-1Z" fill="#ff0000"/><path d="M478 822h2v1h-2ZM478 823h3v1h-3ZM478 824h3v1h-3ZM476 825h6v1h-6ZM476 826h6v1h-6Z" fill="#ff0000"/><path d="M484 851h4v1h-4ZM492 851h4v1h-4Z" fill="#ff0000"/><path d="M489 836h1v13h-1ZM489 854h1v14h-1Z" fill="#ff0000"/><path d="M488 849h2v1h-2ZM488 850h3v1h-3ZM488 851h3v1h-3ZM486 852h6v1h-6ZM486 853h6v1h-6Z" fill="#ff0000"/><path d="M495 857h4v1h-4ZM503 857h3v1h-3Z" fill="#ff0000"/><path d="M500 843h1v12h-1ZM500 860h1v13h-1Z" fill="#ff0000"/><path d="M499 855h2v1h-2ZM499 856h3v1h-3ZM499 857h3v1h-3ZM497 858h6v1h-6ZM497 859h6v1h-6Z" fill="#ff0000"/><path d="M505 850h4v1h-4ZM513 850h3v1h-3Z" fill="#ff0000"/><path d="M510 835h1v13h-1ZM510 853h1v14h-1Z" fill="#ff0000"/><path d="M509 848h2v1h-2ZM509 849h3v1h-3ZM509 850h3v1h-3ZM507 851h6v1h-6ZM507 852h6v1h-6Z" fill="#ff0000"/><path d="M515 831h4v1h-4ZM523 831h3v1h-3Z" fill="#ff0000"/><path d="M520 811h1v18h-1ZM520 834h1v19h-1Z" fill="#ff0000"/><path d="M519 829h2v1h-2ZM519 830h3v1h-3ZM519 831h3v1h-3ZM517 832h6v1h-6ZM517 833h6v1h-6Z" fill="#ff0000"/><path d="M525 849h4v1h-4ZM533 849h3v1h-3Z" fill="#ff0000"/><path d="M530 832h1v15h-1ZM530 852h1v15h-1Z" fill="#ff0000"/><path d="M529 847h2v1h-2ZM529 848h3v1h-3ZM529 849h3v1h-3ZM527 850h6v1h-6ZM527 851h6v1h-6Z" fill="#ff0000"/><path d="M535 838h5v1h-5ZM544 838h3v1h-3Z" fill="#ff0000"/><path d="M541 816h1v20h-1ZM541 841h1v19h-1Z" fill="#ff0000"/><path d="M540 836h2v1h-2ZM540 837h3v1h-3ZM540 838h3v1h-3ZM538 839h6v1h-6ZM538 840h6v1h-6Z" fill="#ff0000"/><path d="M546 857h4v1h-4ZM554 857h3v1h-3Z" fill="#ff0000"/><path d="M551 841h1v14h-1ZM551 860h1v13h-1Z" fill="#ff0000"/><path d="M550 855h2v1h-2ZM550 856h3v1h-3ZM550 857h3v1h-3ZM548 858h6v1h-6ZM548 859h6v1h-6Z" fill="#ff0000"/><path d="M556 868h4v1h-4ZM564 868h3v1h-3Z" fill="#ff0000"/><path d="M561 855h1v11h-1ZM561 871h1v12h-1Z" fill="#ff0000"/><path d="M560 866h2v1h-2ZM560 867h3v1h-3ZM560 868h3v1h-3ZM558 869h6v1h-6ZM558 870h6v1h-6Z" fill="#ff0000"/><path d="M566 872h4v1h-4ZM574 872h3v1h-3Z" fill="#ff0000"/><path d="M571 859h1v11h-1ZM571 875h1v12h-1Z" fill="#ff0000"/><path d="M570 870h2v1h-2ZM570 871h3v1h-3ZM570 872h3v1h-3ZM568 873h6v1h-6ZM568 874h6v1h-6Z" fill="#ff0000"/><path d="M576 837h4v1h-4ZM584 837h3v1h-3Z" fill="#ff0000"/><path d="M581 816h1v19h-1ZM581 840h1v20h-1Z" fill="#ff0000"/><path d="M580 835h2v1h-2ZM580 836h3v1h-3ZM580 837h3v1h-3ZM578 838h6v1h-6ZM578 839h6v1h-6Z" fill="#ff0000"/><path d="M586 862h5v1h-5ZM595 862h3v1h-3Z" fill="#ff0000"/><path d="M592 846h1v14h-1ZM592 865h1v15h-1Z" fill="#ff0000"/><path d="M591 860h2v1h-2ZM591 861h3v1h-3ZM591 862h3v1h-3ZM589 863h6v1h-6ZM589 864h6v1h-6Z" fill="#ff0000"/><path d="M597 864h4v1h-4ZM605 864h3v1h-3Z" fill="#ff0000"/><path d="M602 846h1v16h-1ZM602 867h1v16h-1Z" fill="#ff0000"/><path d="M601 862h2v1h-2ZM601 863h3v1h-3ZM601 864h3v1h-3ZM599 865h6v1h-6ZM599 866h6v1h-6Z" fill="#ff0000"/><path d="M617 850h4v1h-4ZM625 850h3v1h-3Z" fill="#ff0000"/><path d="M622 830h1v18h-1ZM622 853h1v18h-1Z" fill="#ff0000"/><path d="M621 848h2v1h-2ZM621 849h3v1h-3ZM621 850h3v1h-3ZM619 851h6v1h-6ZM619 852h6v1h-6Z" fill="#ff0000"/><path d="M627 868h4v1h-4ZM635 868h4v1h-4Z" fill="#ff0000"/><path d="M632 852h1v14h-1ZM632 871h1v14h-1Z" fill="#ff0000"/><path d="M631 866h2v1h-2ZM631 867h3v1h-3ZM631 868h3v1h-3ZM629 869h6v1h-6ZM629 870h6v1h-6Z" fill="#ff0000"/><path d="M638 868h4v1h-4ZM646 868h3v1h-3Z" fill="#ff0000"/><path d="M643 852h1v14h-1ZM643 871h1v14h-1Z" fill="#ff0000"/><path d="M642 866h2v1h-2ZM642 867h3v1h-3ZM642 868h3v1h-3ZM640 869h6v1h-6ZM640 870h6v1h-6Z" fill="#ff0000"/><path d="M648 868h4v1h-4ZM656 868h3v1h-3Z" fill="#ff0000"/><path d="M653 849h1v17h-1ZM653 871h1v18h-1Z" fill="#ff0000"/><path d="M652 866h2v1h-2ZM652 867h3v1h-3ZM652 868h3v1h-3ZM650 869h6v1h-6ZM650 870h6v1h-6Z" fill="#ff0000"/><path d="M658 859h4v1h-4ZM666 859h3v1h-3Z" fill="#ff0000"/><path d="M663 841h1v16h-1ZM663 862h1v16h-1Z" fill="#ff0000"/><path d="M662 857h2v1h-2ZM662 858h3v1h-3ZM662 859h3v1h-3ZM660 860h6v1h-6ZM660 861h6v1h-6Z" fill="#ff0000"/><path d="M668 885h4v1h-4ZM676 885h3v1h-3Z" fill="#ff0000"/><path d="M673 874h1v9h-1ZM673 888h1v8h-1Z" fill="#ff0000"/><path d="M672 883h2v1h-2ZM672 884h3v1h-3ZM672 885h3v1h-3ZM670 886h6v1h-6ZM670 887h6v1h-6Z" fill="#ff0000"/><path d="M678 885h4v1h-4ZM686 885h4v1h-4Z" fill="#ff0000"/><path d="M683 875h1v8h-1ZM683 888h1v8h-1Z" fill="#ff0000"/><path d="M682 883h2v1h-2ZM682 884h3v1h-3ZM682 885h3v1h-3ZM680 886h6v1h-6ZM680 887h6v1h-6Z" fill="#ff0000"/><path d="M689 862h4v1h-4ZM697 862h3v1h-3Z" fill="#ff0000"/><path d="M694 842h1v18h-1ZM694 865h1v17h-1Z" fill="#ff0000"/><path d="M693 860h2v1h-2ZM693 861h3v1h-3ZM693 862h3v1h-3ZM691 863h6v1h-6ZM691 864h6v1h-6Z" fill="#ff0000"/><path d="M709 836h4v1h-4ZM717 836h3v1h-3Z" fill="#ff0000"/><path d="M714 811h1v23h-1ZM714 839h1v24h-1Z" fill="#ff0000"/><path d="M713 834h2v1h-2ZM713 835h3v1h-3ZM713 836h3v1h-3ZM711 837h6v1h-6ZM711 838h6v1h-6Z" fill="#ff0000"/><path d="M719 882h4v1h-4ZM727 882h3v1h-3Z" fill="#ff0000"/><path d="M724 869h1v11h-1ZM724 885h1v11h-1Z" fill="#ff0000"/><path d="M723 880h2v1h-2ZM723 881h3v1h-3ZM723 882h3v1h-3ZM721 883h6v1h-6ZM721 884h6v1h-6Z" fill="#ff0000"/><path d="M740 851h4v1h-4ZM748 851h3v1h-3Z" fill="#ff0000"/><path d="M745 826h1v23h-1ZM745 854h1v23h-1Z" fill="#ff0000"/><path d="M744 849h2v1h-2ZM744 850h3v1h-3ZM744 851h3v1h-3ZM742 852h6v1h-6ZM742 853h6v1h-6Z" fill="#ff0000"/><path d="M750 873h4v1h-4ZM758 873h3v1h-3Z" fill="#ff0000"/><path d="M755 858h1v13h-1ZM755 876h1v20h-1Z" fill="#ff0000"/><path d="M754 871h2v1h-2ZM754 872h3v1h-3ZM754 873h3v1h-3ZM752 874h6v1h-6ZM752 875h6v1h-6Z" fill="#ff0000"/><path d="M780 877h5v1h-5ZM789 877h3v1h-3Z" fill="#ff0000"/><path d="M786 858h1v17h-1ZM786 880h1v16h-1Z" fill="#ff0000"/><path d="M785 875h2v1h-2ZM785 876h3v1h-3ZM785 877h3v1h-3ZM783 878h6v1h-6ZM783 879h6v1h-6Z" fill="#ff0000"/><path d="M791 861h4v1h-4ZM799 861h3v1h-3Z" fill="#ff0000"/><path d="M796 837h1v22h-1ZM796 864h1v22h-1Z" fill="#ff0000"/><path d="M795 859h2v1h-2ZM795 860h3v1h-3ZM795 861h3v1h-3ZM793 862h6v1h-6ZM793 863h6v1h-6Z" fill="#ff0000"/><path d="M831 875h5v1h-5ZM840 875h3v1h-3Z" fill="#ff0000"/><path d="M837 855h1v18h-1ZM837 878h1v18h-1Z" fill="#ff0000"/><path d="M836 873h2v1h-2ZM836 874h3v1h-3ZM836 875h3v1h-3ZM834 876h6v1h-6ZM834 877h6v1h-6Z" fill="#ff0000"/><path d="M842 879h4v1h-4ZM850 879h3v1h-3Z" fill="#ff0000"/><path d="M847 862h1v15h-1ZM847 882h1v14h-1Z" fill="#ff0000"/><path d="M846 877h2v1h-2ZM846 878h3v1h-3ZM846 879h3v1h-3ZM844 880h6v1h-6ZM844 881h6v1h-6Z" fill="#ff0000"/><path d="M852 880h4v1h-4ZM860 880h3v1h-3Z" fill="#ff0000"/><path d="M857 864h1v14h-1ZM857 883h1v13h-1Z" fill="#ff0000"/><path d="M856 878h2v1h-2ZM856 879h3v1h-3ZM856 880h3v1h-3ZM854 881h6v1h-6ZM854 882h6v1h-6Z" fill="#ff0000"/><path d="M862 876h4v1h-4ZM870 876h3v1h-3Z" fill="#ff0000"/><path d="M867 856h1v18h-1ZM867 879h1v17h-1Z" fill="#ff0000"/><path d="M866 874h2v1h-2ZM866 875h3v1h-3ZM866 876h3v1h-3ZM864 877h6v1h-6ZM864 878h6v1h-6Z" fill="#ff0000"/><path d="M1056 865h4v1h-4ZM1064 865h3v1h-3Z" fill="#ff0000"/><path d="M1061 835h1v28h-1ZM1061 868h1v28h-1Z" fill="#ff0000"/><path d="M1060 863h2v1h-2ZM1060 864h3v1h-3ZM1060 865h3v1h-3ZM1058 866h6v1h-6ZM1058 867h6v1h-6Z" fill="#ff0000"/><path d="M1087 856h4v1h-4ZM1095 856h3v1h-3Z" fill="#ff0000"/><path d="M1092 817h1v37h-1ZM1092 859h1v37h-1Z" fill="#ff0000"/><path d="M1091 854h2v1h-2ZM1091 855h3v1h-3ZM1091 856h3v1h-3ZM1089 857h6v1h-6ZM1089 858h6v1h-6Z" fill="#ff0000"/>
<path d="M127 896h3v1h-3ZM135 896h3v1h-3Z" fill="#0000ff"/><path d="M132 892h1v1h-1ZM130 893h5v1h-5ZM129 894h7v1h-7ZM129 895h7v1h-7ZM129 896h7v1h-7ZM129 897h7v1h-7ZM130 898h5v1h-5ZM131 899h3v1h-3Z" fill="#0000ff"/><path d="M137 893h3v1h-3ZM145 893h3v1h-3Z" fill="#0000ff"/><path d="M142 889h1v1h-1ZM140 890h5v1h-5ZM139 891h7v1h-7ZM139 892h7v1h-7ZM139 893h7v1h-7ZM139 894h7v1h-7ZM140 895h5v1h-5ZM141 896h3v1h-3Z" fill="#0000ff"/><path d="M147 889h4v1h-4ZM156 889h3v1h-3Z" fill="#0000ff"/><path d="M153 885h1v1h-1ZM151 886h5v1h-5ZM150 887h7v1h-7ZM150 888h7v1h-7ZM150 889h7v1h-7ZM150 890h7v1h-7ZM151 891h5v1h-5ZM152 892h3v1h-3Z" fill="#0000ff"/><path d="M158 882h3v1h-3ZM166 882h3v1h-3Z" fill="#0000ff"/><path d="M163 878h1v1h-1ZM161 879h5v1h-5ZM160 880h7v1h-7ZM160 881h7v1h-7ZM160 882h7v1h-7ZM160 883h7v1h-7ZM161 884h5v1h-5ZM162 885h3v1h-3Z" fill="#0000ff"/><path d="M168 885h3v1h-3ZM176 885h3v1h-3Z" fill="#0000ff"/><path d="M173 881h1v1h-1ZM171 882h5v1h-5ZM170 883h7v1h-7ZM170 884h7v1h-7ZM170 885h7v1h-7ZM170 886h7v1h-7ZM171 887h5v1h-5ZM172 888h3v1h-3Z" fill="#0000ff"/><path d="M178 888h3v1h-3ZM186 888h3v1h-3Z" fill="#0000ff"/><path d="M183 884h1v1h-1ZM181 885h5v1h-5ZM180 886h7v1h-7ZM180 887h7v1h-7ZM180 888h7v1h-7ZM180 889h7v1h-7ZM181 890h5v1h-5ZM182 891h3v1h-3Z" fill="#0000ff"/><path d="M188 892h3v1h-3ZM196 892h3v1h-3Z" fill="#0000ff"/><path d="M193 888h1v1h-1ZM191 889h5v1h-5ZM190 890h7v1h-7ZM190 891h7v1h-7ZM190 892h7v1h-7ZM190 893h7v1h-7ZM191 894h5v1h-5ZM192 895h3v1h-3Z" fill="#0000ff"/><path d="M204 891h1v1h-1ZM202 892h5v1h-5ZM201 893h7v1h-7ZM201 894h7v1h-7ZM201 895h7v1h-7ZM201 896h7v1h-7ZM202 897h5v1h-5ZM203 898h3v1h-3Z" fill="#0000ff"/><path d="M214 891h1v1h-1ZM212 892h5v1h-5ZM211 893h7v1h-7ZM211 894h7v1h-7ZM211 895h7v1h-7ZM211 896h7v1h-7ZM212 897h5v1h-5ZM213 898h3v1h-3Z" fill="#0000ff"/><path d="M224 891h1v1h-1ZM222 892h5v1h-5ZM221 893h7v1h-7ZM221 894h7v1h-7ZM221 895h7v1h-7ZM221 896h7v1h-7ZM222 897h5v1h-5ZM223 898h3v1h-3Z" fill="#0000ff"/><path d="M234 891h1v1h-1ZM232 892h5v1h-5ZM231 893h7v1h-7ZM231 894h7v1h-7ZM231 895h7v1h-7ZM231 896h7v1h-7ZM232 897h5v1h-5ZM233 898h3v1h-3Z" fill="#0000ff"/><path d="M244 891h1v1h-1ZM242 892h5v1h-5ZM241 893h7v1h-7ZM241 894h7v1h-7ZM241 895h7v1h-7ZM241 896h7v1h-7ZM242 897h5v1h-5ZM243 898h3v1h-3Z" fill="#0000ff"/><path d="M255 891h1v1h-1ZM253 892h5v1h-5ZM252 893h7v1h-7ZM252 894h7v1h-7ZM252 895h7v1h-7ZM252 896h7v1h-7ZM253 897h5v1h-5ZM254 898h3v1h-3Z" fill="#0000ff"/><path d="M265 891h1v1h-1ZM263 892h5v1h-5ZM262 893h7v1h-7ZM262 894h7v1h-7ZM262 895h7v1h-7ZM262 896h7v1h-7ZM263 897h5v1h-5ZM264 898h3v1h-3Z" fill="#0000ff"/><path d="M275 891h1v1h-1ZM273 892h5v1h-5ZM272 893h7v1h-7ZM272 894h7v1h-7ZM272 895h7v1h-7ZM272 896h7v1h-7ZM273 897h5v1h-5ZM274 898h3v1h-3Z" fill="#0000ff"/><path d="M285 891h1v1h-1ZM283 892h5v1h-5ZM282 893h7v1h-7ZM282 894h7v1h-7ZM282 895h7v1h-7ZM282 896h7v1h-7ZM283 897h5v1h-5ZM284 898h3v1h-3Z" fill="#0000ff"/><path d="M295 891h1v1h-1ZM293 892h5v1h-5ZM292 893h7v1h-7ZM292 894h7v1h-7ZM292 895h7v1h-7ZM292 896h7v1h-7ZM293 897h5v1h-5ZM294 898h3v1h-3Z" fill="#0000ff"/><path d="M306 891h1v1h-1ZM304 892h5v1h-5ZM303 893h7v1h-7ZM303 894h7v1h-7ZM303 895h7v1h-7ZM303 896h7v1h-7ZM304 897h5v1h-5ZM305 898h3v1h-3Z" fill="#0000ff"/><path d="M316 891h1v1h-1ZM314 892h5v1h-5ZM313 893h7v1h-7ZM313 894h7v1h-7ZM313 895h7v1h-7ZM313 896h7v1h-7ZM314 897h5v1h-5ZM315 898h3v1h-3Z" fill="#0000ff"/><path d="M326 891h1v1h-1ZM324 892h5v1h-5ZM323 893h7v1h-7ZM323 894h7v1h-7ZM323 895h7v1h-7ZM323 896h7v1h-7ZM324 897h5v1h-5ZM325 898h3v1h-3Z" fill="#0000ff"/><path d="M336 891h1v1h-1ZM334 892h5v1h-5ZM333 893h7v1h-7ZM333 894h7v1h-7ZM333 895h7v1h-7ZM333 896h7v1h-7ZM334 897h5v1h-5ZM335 898h3v1h-3Z" fill="#0000ff"/><path d="M347 891h1v1h-1ZM345 892h5v1h-5ZM344 893h7v1h-7ZM344 894h7v1h-7ZM344 895h7v1h-7ZM344 896h7v1h-7ZM345 897h5v1h-5ZM346 898h3v1h-3Z" fill="#0000ff"/><path d="M357 891h1v1h-1ZM355 892h5v1h-5ZM354 893h7v1h-7ZM354 894h7v1h-7ZM354 895h7v1h-7ZM354 896h7v1h-7ZM355 897h5v1h-5ZM356 898h3v1h-3Z" fill="#0000ff"/><path d="M367 891h1v1h-1ZM365 892h5v1h-5ZM364 893h7v1h-7ZM364 894h7v1h-7ZM364 895h7v1h-7ZM364 896h7v1h-7ZM365 897h5v1h-5ZM366 898h3v1h-3Z" fill="#0000ff"/><path d="M372 890h3v1h-3ZM380 890h3v1h-3Z" fill="#0000ff"/><path d="M377 886h1v1h-1ZM375 887h5v1h-5ZM374 888h7v1h-7ZM374 889h7v1h-7ZM374 890h7v1h-7ZM374 891h7v1h-7ZM375 892h5v1h-5ZM376 893h3v1h-3Z" fill="#0000ff"/><path d="M382 895h3v1h-3ZM390 895h3v1h-3Z" fill="#0000ff"/><path d="M387 891h1v1h-1ZM385 892h5v1h-5ZM384 893h7v1h-7ZM384 894h7v1h-7ZM384 895h7v1h-7ZM384 896h7v1h-7ZM385 897h5v1h-5ZM386 898h3v1h-3Z" fill="#0000ff"/><path d="M392 895h4v1h-4ZM401 895h3v1h-3Z" fill="#0000ff"/><path d="M398 891h1v1h-1ZM396 892h5v1h-5ZM395 893h7v1h-7ZM395 894h7v1h-7ZM395 895h7v1h-7ZM395 896h7v1h-7ZM396 897h5v1h-5ZM397 898h3v1h-3Z" fill="#0000ff"/><path d="M403 895h3v1h-3ZM411 895h3v1h-3Z" fill="#0000ff"/><path d="M408 891h1v1h-1ZM406 892h5v1h-5ZM405 893h7v1h-7ZM405 894h7v1h-7ZM405 895h7v1h-7ZM405 896h7v1h-7ZM406 897h5v1h-5ZM407 898h3v1h-3Z" fill="#0000ff"/><path d="M413 895h3v1h-3ZM421 895h3v1h-3Z" fill="#0000ff"/><path d="M418 891h1v1h-1ZM416 892h5v1h-5ZM415 893h7v1h-7ZM415 894h7v1h-7ZM415 895h7v1h-7ZM415 896h7v1h-7ZM416 897h5v1h-5ZM417 898h3v1h-3Z" fill="#0000ff"/><path d="M423 895h3v1h-3ZM431 895h3v1h-3Z" fill="#0000ff"/><path d="M428 891h1v1h-1ZM426 892h5v1h-5ZM425 893h7v1h-7ZM425 894h7v1h-7ZM425 895h7v1h-7ZM425 896h7v1h-7ZM426 897h5v1h-5ZM427 898h3v1h-3Z" fill="#0000ff"/><path d="M433 895h3v1h-3ZM441 895h4v1h-4Z" fill="#0000ff"/><path d="M438 891h1v1h-1ZM436 892h5v1h-5ZM435 893h7v1h-7ZM435 894h7v1h-7ZM435 895h7v1h-7ZM435 896h7v1h-7ZM436 897h5v1h-5ZM437 898h3v1h-3Z" fill="#0000ff"/><path d="M444 895h3v1h-3ZM452 895h3v1h-3Z" fill="#0000ff"/><path d="M449 891h1v1h-1ZM447 892h5v1h-5ZM446 893h7v1h-7ZM446 894h7v1h-7ZM446 895h7v1h-7ZM446 896h7v1h-7ZM447 897h5v1h-5ZM448 898h3v1h-3Z" fill="#0000ff"/><path d="M454 895h3v1h-3ZM462 895h3v1h-3Z" fill="#0000ff"/><path d="M459 891h1v1h-1ZM457 892h5v1h-5ZM456 893h7v1h-7ZM456 894h7v1h-7ZM456 895h7v1h-7ZM456 896h7v1h-7ZM457 897h5v1h-5ZM458 898h3v1h-3Z" fill="#0000ff"/><path d="M464 895h3v1h-3ZM472 895h3v1h-3Z" fill="#0000ff"/><path d="M469 891h1v1h-1ZM467 892h5v1h-5ZM466 893h7v1h-7ZM466 894h7v1h-7ZM466 895h7v1h-7ZM466 896h7v1h-7ZM467 897h5v1h-5ZM468 898h3v1h-3Z" fill="#0000ff"/><path d="M474 895h3v1h-3ZM482 895h3v1h-3Z" fill="#0000ff"/><path d="M479 891h1v1h-1ZM477 892h5v1h-5ZM476 893h7v1h-7ZM476 894h7v1h-7ZM476 895h7v1h-7ZM476 896h7v1h-7ZM477 897h5v1h-5ZM478 898h3v1h-3Z" fill="#0000ff"/><path d="M484 895h3v1h-3ZM492 895h4v1h-4Z" fill="#0000ff"/><path d="M489 891h1v1h-1ZM487 892h5v1h-5ZM486 893h7v1h-7ZM486 894h7v1h-7ZM486 895h7v1h-7ZM486 896h7v1h-7ZM487 897h5v1h-5ZM488 898h3v1h-3Z" fill="#0000ff"/><path d="M495 895h3v1h-3ZM503 895h3v1h-3Z" fill="#0000ff"/><path d="M500 891h1v1h-1ZM498 892h5v1h-5ZM497 893h7v1h-7ZM497 894h7v1h-7ZM497 895h7v1h-7ZM497 896h7v1h-7ZM498 897h5v1h-5ZM499 898h3v1h-3Z" fill="#0000ff"/><path d="M505 895h3v1h-3ZM513 895h3v1h-3Z" fill="#0000ff"/><path d="M510 891h1v1h-1ZM508 892h5v1h-5ZM507 893h7v1h-7ZM507 894h7v1h-7ZM507 895h7v1h-7ZM507 896h7v1h-7ZM508 897h5v1h-5ZM509 898h3v1h-3Z" fill="#0000ff"/><path d="M515 895h3v1h-3ZM523 895h3v1h-3Z" fill="#0000ff"/><path d="M520 891h1v1h-1ZM518 892h5v1h-5ZM517 893h7v1h-7ZM517 894h7v1h-7ZM517 895h7v1h-7ZM517 896h7v1h-7ZM518 897h5v1h-5ZM519 898h3v1h-3Z" fill="#0000ff"/><path d="M525 891h3v1h-3ZM533 891h3v1h-3Z" fill="#0000ff"/><path d="M530 887h1v1h-1ZM528 888h5v1h-5ZM527 889h7v1h-7ZM527 890h7v1h-7ZM527 891h7v1h-7ZM527 892h7v1h-7ZM528 893h5v1h-5ZM529 894h3v1h-3Z" fill="#0000ff"/><path d="M535 895h4v1h-4ZM544 895h3v1h-3Z" fill="#0000ff"/><path d="M541 891h1v1h-1ZM539 892h5v1h-5ZM538 893h7v1h-7ZM538 894h7v1h-7ZM538 895h7v1h-7ZM538 896h7v1h-7ZM539 897h5v1h-5ZM540 898h3v1h-3Z" fill="#0000ff"/><path d="M546 890h3v1h-3ZM554 890h3v1h-3Z" fill="#0000ff"/><path d="M551 886h1v1h-1ZM549 887h5v1h-5ZM548 888h7v1h-7ZM548 889h7v1h-7ZM548 890h7v1h-7ZM548 891h7v1h-7ZM549 892h5v1h-5ZM550 893h3v1h-3Z" fill="#0000ff"/><path d="M556 892h3v1h-3ZM564 892h3v1h-3Z" fill="#0000ff"/><path d="M561 888h1v1h-1ZM559 889h5v1h-5ZM558 890h7v1h-7ZM558 891h7v1h-7ZM558 892h7v1h-7ZM558 893h7v1h-7ZM559 894h5v1h-5ZM560 895h3v1h-3Z" fill="#0000ff"/><path d="M566 895h3v1h-3ZM574 895h3v1h-3Z" fill="#0000ff"/><path d="M571 891h1v1h-1ZM569 892h5v1h-5ZM568 893h7v1h-7ZM568 894h7v1h-7ZM568 895h7v1h-7ZM568 896h7v1h-7ZM569 897h5v1h-5ZM570 898h3v1h-3Z" fill="#0000ff"/><path d="M576 895h3v1h-3ZM584 895h3v1h-3Z" fill="#0000ff"/><path d="M581 891h1v1h-1ZM579 892h5v1h-5ZM578 893h7v1h-7ZM578 894h7v1h-7ZM578 895h7v1h-7ZM578 896h7v1h-7ZM579 897h5v1h-5ZM580 898h3v1h-3Z" fill="#0000ff"/><path d="M586 892h4v1h-4ZM595 892h3v1h-3Z" fill="#0000ff"/><path d="M592 888h1v1h-1ZM590 889h5v1h-5ZM589 890h7v1h-7ZM589 891h7v1h-7ZM589 892h7v1h-7ZM589 893h7v1h-7ZM590 894h5v1h-5ZM591 895h3v1h-3Z" fill="#0000ff"/><path d="M597 895h3v1h-3ZM605 895h3v1h-3Z" fill="#0000ff"/><path d="M602 891h1v1h-1ZM600 892h5v1h-5ZM599 893h7v1h-7ZM599 894h7v1h-7ZM599 895h7v1h-7ZM599 896h7v1h-7ZM600 897h5v1h-5ZM601 898h3v1h-3Z" fill="#0000ff"/><path d="M648 894h3v1h-3ZM656 894h3v1h-3Z" fill="#0000ff"/><path d="M653 890h1v1h-1ZM651 891h5v1h-5ZM650 892h7v1h-7ZM650 893h7v1h-7ZM650 894h7v1h-7ZM650 895h7v1h-7ZM651 896h5v1h-5ZM652 897h3v1h-3Z" fill="#0000ff"/><path d="M689 892h3v1h-3ZM697 892h3v1h-3Z" fill="#0000ff"/><path d="M694 888h1v1h-1ZM692 889h5v1h-5ZM691 890h7v1h-7ZM691 891h7v1h-7ZM691 892h7v1h-7ZM691 893h7v1h-7ZM692 894h5v1h-5ZM693 895h3v1h-3Z" fill="#0000ff"/><path d="M709 894h3v1h-3ZM717 894h3v1h-3Z" fill="#0000ff"/><path d="M714 890h1v1h-1ZM712 891h5v1h-5ZM711 892h7v1h-7ZM711 893h7v1h-7ZM711 894h7v1h-7ZM711 895h7v1h-7ZM712 896h5v1h-5ZM713 897h3v1h-3Z" fill="#0000ff"/><path d="M719 892h3v1h-3ZM727 892h3v1h-3Z" fill="#0000ff"/><path d="M724 888h1v1h-1ZM722 889h5v1h-5ZM721 890h7v1h-7ZM721 891h7v1h-7ZM721 892h7v1h-7ZM721 893h7v1h-7ZM722 894h5v1h-5ZM723 895h3v1h-3Z" fill="#0000ff"/><path d="M750 893h3v1h-3ZM758 893h3v1h-3Z" fill="#0000ff"/><path d="M755 889h1v1h-1ZM753 890h5v1h-5ZM752 891h7v1h-7ZM752 892h7v1h-7ZM752 893h7v1h-7ZM752 894h7v1h-7ZM753 895h5v1h-5ZM754 896h3v1h-3Z" fill="#0000ff"/>
<path d="M137 893h3v1h-3ZM145 893h3v1h-3Z" fill="#66cccc"/><path d="M140 889h3v1h-3ZM140 890h3v1h-3ZM138 891h7v1h-7ZM138 892h7v1h-7ZM138 893h7v1h-7ZM140 894h3v1h-3ZM140 895h3v1h-3Z" fill="#66cccc"/><path d="M147 893h4v1h-4ZM156 893h3v1h-3Z" fill="#66cccc"/><path d="M151 889h3v1h-3ZM151 890h3v1h-3ZM149 891h7v1h-7ZM149 892h7v1h-7ZM149 893h7v1h-7ZM151 894h3v1h-3ZM151 895h3v1h-3Z" fill="#66cccc"/><path d="M158 893h3v1h-3ZM166 893h3v1h-3Z" fill="#66cccc"/><path d="M161 889h3v1h-3ZM161 890h3v1h-3ZM159 891h7v1h-7ZM159 892h7v1h-7ZM159 893h7v1h-7ZM161 894h3v1h-3ZM161 895h3v1h-3Z" fill="#66cccc"/><path d="M168 893h3v1h-3ZM176 893h3v1h-3Z" fill="#66cccc"/><path d="M171 889h3v1h-3ZM171 890h3v1h-3ZM169 891h7v1h-7ZM169 892h7v1h-7ZM169 893h7v1h-7ZM171 894h3v1h-3ZM171 895h3v1h-3Z" fill="#66cccc"/><path d="M178 893h3v1h-3ZM186 893h3v1h-3Z" fill="#66cccc"/><path d="M181 889h3v1h-3ZM181 890h3v1h-3ZM179 891h7v1h-7ZM179 892h7v1h-7ZM179 893h7v1h-7ZM181 894h3v1h-3ZM181 895h3v1h-3Z" fill="#66cccc"/><path d="M188 893h3v1h-3ZM196 893h3v1h-3Z" fill="#66cccc"/><path d="M191 889h3v1h-3ZM191 890h3v1h-3ZM189 891h7v1h-7ZM189 892h7v1h-7ZM189 893h7v1h-7ZM191 894h3v1h-3ZM191 895h3v1h-3Z" fill="#66cccc"/><path d="M198 893h4v1h-4ZM207 893h3v1h-3Z" fill="#66cccc"/><path d="M202 889h3v1h-3ZM202 890h3v1h-3ZM200 891h7v1h-7ZM200 892h7v1h-7ZM200 893h7v1h-7ZM202 894h3v1h-3ZM202 895h3v1h-3Z" fill="#66cccc"/><path d="M209 893h3v1h-3ZM217 893h3v1h-3Z" fill="#66cccc"/><path d="M212 889h3v1h-3ZM212 890h3v1h-3ZM210 891h7v1h-7ZM210 892h7v1h-7ZM210 893h7v1h-7ZM212 894h3v1h-3ZM212 895h3v1h-3Z" fill="#66cccc"/><path d="M219 893h3v1h-3ZM227 893h3v1h-3Z" fill="#66cccc"/><path d="M222 889h3v1h-3ZM222 890h3v1h-3ZM220 891h7v1h-7ZM220 892h7v1h-7ZM220 893h7v1h-7ZM222 894h3v1h-3ZM222 895h3v1h-3Z" fill="#66cccc"/><path d="M229 893h3v1h-3ZM237 893h3v1h-3Z" fill="#66cccc"/><path d="M232 889h3v1h-3ZM232 890h3v1h-3ZM230 891h7v1h-7ZM230 892h7v1h-7ZM230 893h7v1h-7ZM232 894h3v1h-3ZM232 895h3v1h-3Z" fill="#66cccc"/><path d="M239 893h3v1h-3ZM247 893h4v1h-4Z" fill="#66cccc"/><path d="M242 889h3v1h-3ZM242 890h3v1h-3ZM240 891h7v1h-7ZM240 892h7v1h-7ZM240 893h7v1h-7ZM242 894h3v1h-3ZM242 895h3v1h-3Z" fill="#66cccc"/><path d="M250 893h3v1h-3ZM258 893h3v1h-3Z" fill="#66cccc"/><path d="M253 889h3v1h-3ZM253 890h3v1h-3ZM251 891h7v1h-7ZM251 892h7v1h-7ZM251 893h7v1h-7ZM253 894h3v1h-3ZM253 895h3v1h-3Z" fill="#66cccc"/><path d="M260 893h3v1h-3ZM268 893h3v1h-3Z" fill="#66cccc"/><path d="M263 889h3v1h-3ZM263 890h3v1h-3ZM261 891h7v1h-7ZM261 892h7v1h-7ZM261 893h7v1h-7ZM263 894h3v1h-3ZM263 895h3v1h-3Z" fill="#66cccc"/><path d="M270 893h3v1h-3ZM278 893h3v1h-3Z" fill="#66cccc"/><path d="M273 889h3v1h-3ZM273 890h3v1h-3ZM271 891h7v1h-7ZM271 892h7v1h-7ZM271 893h7v1h-7ZM273 894h3v1h-3ZM273 895h3v1h-3Z" fill="#66cccc"/><path d="M280 893h3v1h-3ZM288 893h3v1h-3Z" fill="#66cccc"/><path d="M283 889h3v1h-3ZM283 890h3v1h-3ZM281 891h7v1h-7ZM281 892h7v1h-7ZM281 893h7v1h-7ZM283 894h3v1h-3ZM283 895h3v1h-3Z" fill="#66cccc"/><path d="M290 893h3v1h-3ZM298 893h4v1h-4Z" fill="#66cccc"/><path d="M293 889h3v1h-3ZM293 890h3v1h-3ZM291 891h7v1h-7ZM291 892h7v1h-7ZM291 893h7v1h-7ZM293 894h3v1h-3ZM293 895h3v1h-3Z" fill="#66cccc"/><path d="M301 893h3v1h-3ZM309 893h3v1h-3Z" fill="#66cccc"/><path d="M304 889h3v1h-3ZM304 890h3v1h-3ZM302 891h7v1h-7ZM302 892h7v1h-7ZM302 893h7v1h-7ZM304 894h3v1h-3ZM304 895h3v1h-3Z" fill="#66cccc"/><path d="M311 893h3v1h-3ZM319 893h3v1h-3Z" fill="#66cccc"/><path d="M314 889h3v1h-3ZM314 890h3v1h-3ZM312 891h7v1h-7ZM312 892h7v1h-7ZM312 893h7v1h-7ZM314 894h3v1h-3ZM314 895h3v1h-3Z" fill="#66cccc"/><path d="M321 893h3v1h-3ZM329 893h3v1h-3Z" fill="#66cccc"/><path d="M324 889h3v1h-3ZM324 890h3v1h-3ZM322 891h7v1h-7ZM322 892h7v1h-7ZM322 893h7v1h-7ZM324 894h3v1h-3ZM324 895h3v1h-3Z" fill="#66cccc"/><path d="M331 893h3v1h-3ZM339 893h3v1h-3Z" fill="#66cccc"/><path d="M334 889h3v1h-3ZM334 890h3v1h-3ZM332 891h7v1h-7ZM332 892h7v1h-7ZM332 893h7v1h-7ZM334 894h3v1h-3ZM334 895h3v1h-3Z" fill="#66cccc"/><path d="M341 891h4v1h-4ZM350 891h3v1h-3Z" fill="#66cccc"/><path d="M345 887h3v1h-3ZM345 888h3v1h-3ZM343 889h7v1h-7ZM343 890h7v1h-7ZM343 891h7v1h-7ZM345 892h3v1h-3ZM345 893h3v1h-3Z" fill="#66cccc"/><path d="M352 893h3v1h-3ZM360 893h3v1h-3Z" fill="#66cccc"/><path d="M355 889h3v1h-3ZM355 890h3v1h-3ZM353 891h7v1h-7ZM353 892h7v1h-7ZM353 893h7v1h-7ZM355 894h3v1h-3ZM355 895h3v1h-3Z" fill="#66cccc"/><path d="M362 893h3v1h-3ZM370 893h3v1h-3Z" fill="#66cccc"/><path d="M365 889h3v1h-3ZM365 890h3v1h-3ZM363 891h7v1h-7ZM363 892h7v1h-7ZM363 893h7v1h-7ZM365 894h3v1h-3ZM365 895h3v1h-3Z" fill="#66cccc"/><path d="M372 893h3v1h-3ZM380 893h3v1h-3Z" fill="#66cccc"/><path d="M375 889h3v1h-3ZM375 890h3v1h-3ZM373 891h7v1h-7ZM373 892h7v1h-7ZM373 893h7v1h-7ZM375 894h3v1h-3ZM375 895h3v1h-3Z" fill="#66cccc"/><path d="M382 893h3v1h-3ZM390 893h3v1h-3Z" fill="#66cccc"/><path d="M385 889h3v1h-3ZM385 890h3v1h-3ZM383 891h7v1h-7ZM383 892h7v1h-7ZM383 893h7v1h-7ZM385 894h3v1h-3ZM385 895h3v1h-3Z" fill="#66cccc"/><path d="M392 893h4v1h-4ZM401 893h3v1h-3Z" fill="#66cccc"/><path d="M396 889h3v1h-3ZM396 890h3v1h-3ZM394 891h7v1h-7ZM394 892h7v1h-7ZM394 893h7v1h-7ZM396 894h3v1h-3ZM396 895h3v1h-3Z" fill="#66cccc"/><path d="M403 893h3v1h-3ZM411 893h3v1h-3Z" fill="#66cccc"/><path d="M406 889h3v1h-3ZM406 890h3v1h-3ZM404 891h7v1h-7ZM404 892h7v1h-7ZM404 893h7v1h-7ZM406 894h3v1h-3ZM406 895h3v1h-3Z" fill="#66cccc"/><path d="M413 893h3v1h-3ZM421 893h3v1h-3Z" fill="#66cccc"/><path d="M416 889h3v1h-3ZM416 890h3v1h-3ZM414 891h7v1h-7ZM414 892h7v1h-7ZM414 893h7v1h-7ZM416 894h3v1h-3ZM416 895h3v1h-3Z" fill="#66cccc"/><path d="M423 893h3v1h-3ZM431 893h3v1h-3Z" fill="#66cccc"/><path d="M426 889h3v1h-3ZM426 890h3v1h-3ZM424 891h7v1h-7ZM424 892h7v1h-7ZM424 893h7v1h-7ZM426 894h3v1h-3ZM426 895h3v1h-3Z" fill="#66cccc"/><path d="M433 893h3v1h-3ZM441 893h4v1h-4Z" fill="#66cccc"/><path d="M436 889h3v1h-3ZM436 890h3v1h-3ZM434 891h7v1h-7ZM434 892h7v1h-7ZM434 893h7v1h-7ZM436 894h3v1h-3ZM436 895h3v1h-3Z" fill="#66cccc"/><path d="M444 893h3v1h-3ZM452 893h3v1h-3Z" fill="#66cccc"/><path d="M447 889h3v1h-3ZM447 890h3v1h-3ZM445 891h7v1h-7ZM445 892h7v1h-7ZM445 893h7v1h-7ZM447 894h3v1h-3ZM447 895h3v1h-3Z" fill="#66cccc"/><path d="M454 893h3v1h-3ZM462 893h3v1h-3Z" fill="#66cccc"/><path d="M457 889h3v1h-3ZM457 890h3v1h-3ZM455 891h7v1h-7ZM455 892h7v1h-7ZM455 893h7v1h-7ZM457 894h3v1h-3ZM457 895h3v1h-3Z" fill="#66cccc"/><path d="M464 893h3v1h-3ZM472 893h3v1h-3Z" fill="#66cccc"/><path d="M467 889h3v1h-3ZM467 890h3v1h-3ZM465 891h7v1h-7ZM465 892h7v1h-7ZM465 893h7v1h-7ZM467 894h3v1h-3ZM467 895h3v1h-3Z" fill="#66cccc"/><path d="M474 893h3v1h-3ZM482 893h3v1h-3Z" fill="#66cccc"/><path d="M477 889h3v1h-3ZM477 890h3v1h-3ZM475 891h7v1h-7ZM475 892h7v1h-7ZM475 893h7v1h-7ZM477 894h3v1h-3ZM477 895h3v1h-3Z" fill="#66cccc"/><path d="M484 893h3v1h-3ZM492 893h4v1h-4Z" fill="#66cccc"/><path d="M487 889h3v1h-3ZM487 890h3v1h-3ZM485 891h7v1h-7ZM485 892h7v1h-7ZM485 893h7v1h-7ZM487 894h3v1h-3ZM487 895h3v1h-3Z" fill="#66cccc"/><path d="M495 893h3v1h-3ZM503 893h3v1h-3Z" fill="#66cccc"/><path d="M498 889h3v1h-3ZM498 890h3v1h-3ZM496 891h7v1h-7ZM496 892h7v1h-7ZM496 893h7v1h-7ZM498 894h3v1h-3ZM498 895h3v1h-3Z" fill="#66cccc"/><path d="M505 893h3v1h-3ZM513 893h3v1h-3Z" fill="#66cccc"/><path d="M508 889h3v1h-3ZM508 890h3v1h-3ZM506 891h7v1h-7ZM506 892h7v1h-7ZM506 893h7v1h-7ZM508 894h3v1h-3ZM508 895h3v1h-3Z" fill="#66cccc"/><path d="M515 893h3v1h-3ZM523 893h3v1h-3Z" fill="#66cccc"/><path d="M518 889h3v1h-3ZM518 890h3v1h-3ZM516 891h7v1h-7ZM516 892h7v1h-7ZM516 893h7v1h-7ZM518 894h3v1h-3ZM518 895h3v1h-3Z" fill="#66cccc"/><path d="M525 893h3v1h-3ZM533 893h3v1h-3Z" fill="#66cccc"/><path d="M528 889h3v1h-3ZM528 890h3v1h-3ZM526 891h7v1h-7ZM526 892h7v1h-7ZM526 893h7v1h-7ZM528 894h3v1h-3ZM528 895h3v1h-3Z" fill="#66cccc"/><path d="M535 893h4v1h-4ZM544 893h3v1h-3Z" fill="#66cccc"/><path d="M539 889h3v1h-3ZM539 890h3v1h-3ZM537 891h7v1h-7ZM537 892h7v1h-7ZM537 893h7v1h-7ZM539 894h3v1h-3ZM539 895h3v1h-3Z" fill="#66cccc"/><path d="M546 893h3v1h-3ZM554 893h3v1h-3Z" fill="#66cccc"/><path d="M549 889h3v1h-3ZM549 890h3v1h-3ZM547 891h7v1h-7ZM547 892h7v1h-7ZM547 893h7v1h-7ZM549 894h3v1h-3ZM549 895h3v1h-3Z" fill="#66cccc"/><path d="M556 893h3v1h-3ZM564 893h3v1h-3Z" fill="#66cccc"/><path d="M559 889h3v1h-3ZM559 890h3v1h-3ZM557 891h7v1h-7ZM557 892h7v1h-7ZM557 893h7v1h-7ZM559 894h3v1h-3ZM559 895h3v1h-3Z" fill="#66cccc"/><path d="M566 893h3v1h-3ZM574 893h3v1h-3Z" fill="#66cccc"/><path d="M569 889h3v1h-3ZM569 890h3v1h-3ZM567 891h7v1h-7ZM567 892h7v1h-7ZM567 893h7v1h-7ZM569 894h3v1h-3ZM569 895h3v1h-3Z" fill="#66cccc"/><path d="M576 893h3v1h-3ZM584 893h3v1h-3Z" fill="#66cccc"/><path d="M579 889h3v1h-3ZM579 890h3v1h-3ZM577 891h7v1h-7ZM577 892h7v1h-7ZM577 893h7v1h-7ZM579 894h3v1h-3ZM579 895h3v1h-3Z" fill="#66cccc"/><path d="M586 893h4v1h-4ZM595 893h3v1h-3Z" fill="#66cccc"/><path d="M590 889h3v1h-3ZM590 890h3v1h-3ZM588 891h7v1h-7ZM588 892h7v1h-7ZM588 893h7v1h-7ZM590 894h3v1h-3ZM590 895h3v1h-3Z" fill="#66cccc"/><path d="M678 895h3v1h-3ZM686 895h4v1h-4Z" fill="#66cccc"/><path d="M681 891h3v1h-3ZM681 892h3v1h-3ZM679 893h7v1h-7ZM679 894h7v1h-7ZM679 895h7v1h-7ZM681 896h3v1h-3ZM681 897h3v1h-3Z" fill="#66cccc"/>
<path d="M127 896h3v1h-3ZM135 896h3v1h-3Z" fill="#990099"/><path d="M128 892h6v1h-6ZM128 893h6v1h-6ZM128 894h6v1h-6ZM128 895h6v1h-6ZM128 896h6v1h-6ZM128 897h6v1h-6Z" fill="#990099"/><path d="M137 892h3v1h-3ZM145 892h3v1h-3Z" fill="#990099"/><path d="M138 888h6v1h-6ZM138 889h6v1h-6ZM138 890h6v1h-6ZM138 891h6v1h-6ZM138 892h6v1h-6ZM138 893h6v1h-6Z" fill="#990099"/><path d="M147 891h4v1h-4ZM156 891h3v1h-3Z" fill="#990099"/><path d="M149 887h6v1h-6ZM149 888h6v1h-6ZM149 889h6v1h-6ZM149 890h6v1h-6ZM149 891h6v1h-6ZM149 892h6v1h-6Z" fill="#990099"/><path d="M158 890h3v1h-3ZM166 890h3v1h-3Z" fill="#990099"/><path d="M159 886h6v1h-6ZM159 887h6v1h-6ZM159 888h6v1h-6ZM159 889h6v1h-6ZM159 890h6v1h-6ZM159 891h6v1h-6Z" fill="#990099"/><path d="M168 892h3v1h-3ZM176 892h3v1h-3Z" fill="#990099"/><path d="M169 888h6v1h-6ZM169 889h6v1h-6ZM169 890h6v1h-6ZM169 891h6v1h-6ZM169 892h6v1h-6ZM169 893h6v1h-6Z" fill="#990099"/><path d="M178 892h3v1h-3ZM186 892h3v1h-3Z" fill="#990099"/><path d="M179 888h6v1h-6ZM179 889h6v1h-6ZM179 890h6v1h-6ZM179 891h6v1h-6ZM179 892h6v1h-6ZM179 893h6v1h-6Z" fill="#990099"/><path d="M188 893h3v1h-3ZM196 893h3v1h-3Z" fill="#990099"/><path d="M189 889h6v1h-6ZM189 890h6v1h-6ZM189 891h6v1h-6ZM189 892h6v1h-6ZM189 893h6v1h-6ZM189 894h6v1h-6Z" fill="#990099"/><path d="M198 893h4v1h-4ZM207 893h3v1h-3Z" fill="#990099"/><path d="M200 889h6v1h-6ZM200 890h6v1h-6ZM200 891h6v1h-6ZM200 892h6v1h-6ZM200 893h6v1h-6ZM200 894h6v1h-6Z" fill="#990099"/><path d="M209 892h3v1h-3ZM217 892h3v1h-3Z" fill="#990099"/><path d="M210 888h6v1h-6ZM210 889h6v1h-6ZM210 890h6v1h-6ZM210 891h6v1h-6ZM210 892h6v1h-6ZM210 893h6v1h-6Z" fill="#990099"/><path d="M219 891h3v1h-3ZM227 891h3v1h-3Z" fill="#990099"/><path d="M220 887h6v1h-6ZM220 888h6v1h-6ZM220 889h6v1h-6ZM220 890h6v1h-6ZM220 891h6v1h-6ZM220 892h6v1h-6Z" fill="#990099"/><path d="M229 891h3v1h-3ZM237 891h3v1h-3Z" fill="#990099"/><path d="M230 887h6v1h-6ZM230 888h6v1h-6ZM230 889h6v1h-6ZM230 890h6v1h-6ZM230 891h6v1h-6ZM230 892h6v1h-6Z" fill="#990099"/><path d="M239 891h3v1h-3ZM247 891h4v1h-4Z" fill="#990099"/><path d="M240 887h6v1h-6ZM240 888h6v1h-6ZM240 889h6v1h-6ZM240 890h6v1h-6ZM240 891h6v1h-6ZM240 892h6v1h-6Z" fill="#990099"/><path d="M250 892h3v1h-3ZM258 892h3v1h-3Z" fill="#990099"/><path d="M251 888h6v1h-6ZM251 889h6v1h-6ZM251 890h6v1h-6ZM251 891h6v1h-6ZM251 892h6v1h-6ZM251 893h6v1h-6Z" fill="#990099"/><path d="M260 892h3v1h-3ZM268 892h3v1h-3Z" fill="#990099"/><path d="M261 888h6v1h-6ZM261 889h6v1h-6ZM261 890h6v1h-6ZM261 891h6v1h-6ZM261 892h6v1h-6ZM261 893h6v1h-6Z" fill="#990099"/><path d="M270 893h3v1h-3ZM278 893h3v1h-3Z" fill="#990099"/><path d="M271 889h6v1h-6ZM271 890h6v1h-6ZM271 891h6v1h-6ZM271 892h6v1h-6ZM271 893h6v1h-6ZM271 894h6v1h-6Z" fill="#990099"/><path d="M280 893h3v1h-3ZM288 893h3v1h-3Z" fill="#990099"/><path d="M281 889h6v1h-6ZM281 890h6v1h-6ZM281 891h6v1h-6ZM281 892h6v1h-6ZM281 893h6v1h-6ZM281 894h6v1h-6Z" fill="#990099"/><path d="M290 894h3v1h-3ZM298 894h4v1h-4Z" fill="#990099"/><path d="M291 890h6v1h-6ZM291 891h6v1h-6ZM291 892h6v1h-6ZM291 893h6v1h-6ZM291 894h6v1h-6ZM291 895h6v1h-6Z" fill="#990099"/><path d="M301 894h3v1h-3ZM309 894h3v1h-3Z" fill="#990099"/><path d="M302 890h6v1h-6ZM302 891h6v1h-6ZM302 892h6v1h-6ZM302 893h6v1h-6ZM302 894h6v1h-6ZM302 895h6v1h-6Z" fill="#990099"/><path d="M311 895h3v1h-3ZM319 895h3v1h-3Z" fill="#990099"/><path d="M312 891h6v1h-6ZM312 892h6v1h-6ZM312 893h6v1h-6ZM312 894h6v1h-6ZM312 895h6v1h-6ZM312 896h6v1h-6Z" fill="#990099"/><path d="M321 895h3v1h-3ZM329 895h3v1h-3Z" fill="#990099"/><path d="M322 891h6v1h-6ZM322 892h6v1h-6ZM322 893h6v1h-6ZM322 894h6v1h-6ZM322 895h6v1h-6ZM322 896h6v1h-6Z" fill="#990099"/><path d="M331 895h3v1h-3ZM339 895h3v1h-3Z" fill="#990099"/><path d="M332 891h6v1h-6ZM332 892h6v1h-6ZM332 893h6v1h-6ZM332 894h6v1h-6ZM332 895h6v1h-6ZM332 896h6v1h-6Z" fill="#990099"/><path d="M341 895h4v1h-4ZM350 895h3v1h-3Z" fill="#990099"/><path d="M343 891h6v1h-6ZM343 892h6v1h-6ZM343 893h6v1h-6ZM343 894h6v1h-6ZM343 895h6v1h-6ZM343 896h6v1h-6Z" fill="#990099"/><path d="M352 895h3v1h-3ZM360 895h3v1h-3Z" fill="#990099"/><path d="M353 891h6v1h-6ZM353 892h6v1h-6ZM353 893h6v1h-6ZM353 894h6v1h-6ZM353 895h6v1h-6ZM353 896h6v1h-6Z" fill="#990099"/><path d="M362 895h3v1h-3ZM370 895h3v1h-3Z" fill="#990099"/><path d="M363 891h6v1h-6ZM363 892h6v1h-6ZM363 893h6v1h-6ZM363 894h6v1h-6ZM363 895h6v1h-6ZM363 896h6v1h-6Z" fill="#990099"/><path d="M373 892h6v1h-6ZM373 893h6v1h-6ZM373 894h6v1h-6ZM373 895h6v1h-6ZM373 896h6v1h-6ZM373 897h6v1h-6Z" fill="#990099"/><path d="M383 892h6v1h-6ZM383 893h6v1h-6ZM383 894h6v1h-6ZM383 895h6v1h-6ZM383 896h6v1h-6ZM383 897h6v1h-6Z" fill="#990099"/><path d="M394 892h6v1h-6ZM394 893h6v1h-6ZM394 894h6v1h-6ZM394 895h6v1h-6ZM394 896h6v1h-6ZM394 897h6v1h-6Z" fill="#990099"/><path d="M404 892h6v1h-6ZM404 893h6v1h-6ZM404 894h6v1h-6ZM404 895h6v1h-6ZM404 896h6v1h-6ZM404 897h6v1h-6Z" fill="#990099"/><path d="M414 892h6v1h-6ZM414 893h6v1h-6ZM414 894h6v1h-6ZM414 895h6v1h-6ZM414 896h6v1h-6ZM414 897h6v1h-6Z" fill="#990099"/><path d="M424 892h6v1h-6ZM424 893h6v1h-6ZM424 894h6v1h-6ZM424 895h6v1h-6ZM424 896h6v1h-6ZM424 897h6v1h-6Z" fill="#990099"/><path d="M434 892h6v1h-6ZM434 893h6v1h-6ZM434 894h6v1h-6ZM434 895h6v1h-6ZM434 896h6v1h-6ZM434 897h6v1h-6Z" fill="#990099"/><path d="M445 892h6v1h-6ZM445 893h6v1h-6ZM445 894h6v1h-6ZM445 895h6v1h-6ZM445 896h6v1h-6ZM445 897h6v1h-6Z" fill="#990099"/><path d="M455 892h6v1h-6ZM455 893h6v1h-6ZM455 894h6v1h-6ZM455 895h6v1h-6ZM455 896h6v1h-6ZM455 897h6v1h-6Z" fill="#990099"/><path d="M465 892h6v1h-6ZM465 893h6v1h-6ZM465 894h6v1h-6ZM465 895h6v1h-6ZM465 896h6v1h-6ZM465 897h6v1h-6Z" fill="#990099"/><path d="M475 892h6v1h-6ZM475 893h6v1h-6ZM475 894h6v1h-6ZM475 895h6v1h-6ZM475 896h6v1h-6ZM475 897h6v1h-6Z" fill="#990099"/><path d="M485 892h6v1h-6ZM485 893h6v1h-6ZM485 894h6v1h-6ZM485 895h6v1h-6ZM485 896h6v1h-6ZM485 897h6v1h-6Z" fill="#990099"/><path d="M496 892h6v1h-6ZM496 893h6v1h-6ZM496 894h6v1h-6ZM496 895h6v1h-6ZM496 896h6v1h-6ZM496 897h6v1h-6Z" fill="#990099"/><path d="M506 892h6v1h-6ZM506 893h6v1h-6ZM506 894h6v1h-6ZM506 895h6v1h-6ZM506 896h6v1h-6ZM506 897h6v1h-6Z" fill="#990099"/><path d="M516 892h6v1h-6ZM516 893h6v1h-6ZM516 894h6v1h-6ZM516 895h6v1h-6ZM516 896h6v1h-6ZM516 897h6v1h-6Z" fill="#990099"/><path d="M526 892h6v1h-6ZM526 893h6v1h-6ZM526 894h6v1h-6ZM526 895h6v1h-6ZM526 896h6v1h-6ZM526 897h6v1h-6Z" fill="#990099"/><path d="M537 892h6v1h-6ZM537 893h6v1h-6ZM537 894h6v1h-6ZM537 895h6v1h-6ZM537 896h6v1h-6ZM537 897h6v1h-6Z" fill="#990099"/><path d="M547 892h6v1h-6ZM547 893h6v1h-6ZM547 894h6v1h-6ZM547 895h6v1h-6ZM547 896h6v1h-6ZM547 897h6v1h-6Z" fill="#990099"/><path d="M557 892h6v1h-6ZM557 893h6v1h-6ZM557 894h6v1h-6ZM557 895h6v1h-6ZM557 896h6v1h-6ZM557 897h6v1h-6Z" fill="#990099"/><path d="M567 892h6v1h-6ZM567 893h6v1h-6ZM567 894h6v1h-6ZM567 895h6v1h-6ZM567 896h6v1h-6ZM567 897h6v1h-6Z" fill="#990099"/><path d="M577 892h6v1h-6ZM577 893h6v1h-6ZM577 894h6v1h-6ZM577 895h6v1h-6ZM577 896h6v1h-6ZM577 897h6v1h-6Z" fill="#990099"/><path d="M588 892h6v1h-6ZM588 893h6v1h-6ZM588 894h6v1h-6ZM588 895h6v1h-6ZM588 896h6v1h-6ZM588 897h6v1h-6Z" fill="#990099"/><path d="M598 892h6v1h-6ZM598 893h6v1h-6ZM598 894h6v1h-6ZM598 895h6v1h-6ZM598 896h6v1h-6ZM598 897h6v1h-6Z" fill="#990099"/><path d="M617 895h3v1h-3ZM625 895h3v1h-3Z" fill="#990099"/><path d="M618 891h6v1h-6ZM618 892h6v1h-6ZM618 893h6v1h-6ZM618 894h6v1h-6ZM618 895h6v1h-6ZM618 896h6v1h-6Z" fill="#990099"/><path d="M627 895h3v1h-3ZM635 895h4v1h-4Z" fill="#990099"/><path d="M628 891h6v1h-6ZM628 892h6v1h-6ZM628 893h6v1h-6ZM628 894h6v1h-6ZM628 895h6v1h-6ZM628 896h6v1h-6Z" fill="#990099"/><path d="M638 895h3v1h-3ZM646 895h3v1h-3Z" fill="#990099"/><path d="M639 891h6v1h-6ZM639 892h6v1h-6ZM639 893h6v1h-6ZM639 894h6v1h-6ZM639 895h6v1h-6ZM639 896h6v1h-6Z" fill="#990099"/><path d="M658 895h3v1h-3ZM666 895h3v1h-3Z" fill="#990099"/><path d="M659 891h6v1h-6ZM659 892h6v1h-6ZM659 893h6v1h-6ZM659 894h6v1h-6ZM659 895h6v1h-6ZM659 896h6v1h-6Z" fill="#990099"/><path d="M668 895h3v1h-3ZM676 895h3v1h-3Z" fill="#990099"/><path d="M669 891h6v1h-6ZM669 892h6v1h-6ZM669 893h6v1h-6ZM669 894h6v1h-6ZM669 895h6v1h-6ZM669 896h6v1h-6Z" fill="#990099"/><path d="M719 895h3v1h-3ZM727 895h3v1h-3Z" fill="#990099"/><path d="M720 891h6v1h-6ZM720 892h6v1h-6ZM720 893h6v1h-6ZM720 894h6v1h-6ZM720 895h6v1h-6ZM720 896h6v1h-6Z" fill="#990099"/><path d="M750 895h3v1h-3ZM758 895h3v1h-3Z" fill="#990099"/><path d="M751 891h6v1h-6ZM751 892h6v1h-6ZM751 893h6v1h-6ZM751 894h6v1h-6ZM751 895h6v1h-6ZM751 896h6v1h-6Z" fill="#990099"/><path d="M811 895h3v1h-3ZM819 895h3v1h-3Z" fill="#990099"/><path d="M812 891h6v1h-6ZM812 892h6v1h-6ZM812 893h6v1h-6ZM812 894h6v1h-6ZM812 895h6v1h-6ZM812 896h6v1h-6Z" fill="#990099"/><path d="M842 895h3v1h-3ZM850 895h3v1h-3Z" fill="#990099"/><path d="M843 891h6v1h-6ZM843 892h6v1h-6ZM843 893h6v1h-6ZM843 894h6v1h-6ZM843 895h6v1h-6ZM843 896h6v1h-6Z" fill="#990099"/><path d="M862 895h3v1h-3ZM870 895h3v1h-3Z" fill="#990099"/><path d="M863 891h6v1h-6ZM863 892h6v1h-6ZM863 893h6v1h-6ZM863 894h6v1h-6ZM863 895h6v1h-6ZM863 896h6v1h-6Z" fill="#990099"/><path d="M903 894h3v1h-3ZM911 894h3v1h-3Z" fill="#990099"/><path d="M904 890h6v1h-6ZM904 891h6v1h-6ZM904 892h6v1h-6ZM904 893h6v1h-6ZM904 894h6v1h-6ZM904 895h6v1h-6Z" fill="#990099"/><path d="M944 892h3v1h-3ZM952 892h3v1h-3Z" fill="#990099"/><path d="M945 888h6v1h-6ZM945 889h6v1h-6ZM945 890h6v1h-6ZM945 891h6v1h-6ZM945 892h6v1h-6ZM945 893h6v1h-6Z" fill="#990099"/><path d="M964 894h3v1h-3ZM972 894h3v1h-3Z" fill="#990099"/><path d="M965 890h6v1h-6ZM965 891h6v1h-6ZM965 892h6v1h-6ZM965 893h6v1h-6ZM965 894h6v1h-6ZM965 895h6v1h-6Z" fill="#990099"/>
<path d="M127 893h3v1h-3ZM135 893h3v1h-3Z" fill="#000000"/><path d="M132 890h1v1h-1ZM131 891h2v1h-2ZM130 892h4v1h-4ZM130 893h4v1h-4ZM130 894h4v1h-4ZM131 895h2v1h-2Z" fill="#000000"/><path d="M137 893h3v1h-3ZM145 893h3v1h-3Z" fill="#000000"/><path d="M142 890h1v1h-1ZM141 891h2v1h-2ZM140 892h4v1h-4ZM140 893h4v1h-4ZM140 894h4v1h-4ZM141 895h2v1h-2Z" fill="#000000"/><path d="M147 893h4v1h-4ZM156 893h3v1h-3Z" fill="#000000"/><path d="M153 890h1v1h-1ZM152 891h2v1h-2ZM151 892h4v1h-4ZM151 893h4v1h-4ZM151 894h4v1h-4ZM152 895h2v1h-2Z" fill="#000000"/><path d="M158 893h3v1h-3ZM166 893h3v1h-3Z" fill="#000000"/><path d="M163 890h1v1h-1ZM162 891h2v1h-2ZM161 892h4v1h-4ZM161 893h4v1h-4ZM161 894h4v1h-4ZM162 895h2v1h-2Z" fill="#000000"/><path d="M168 893h3v1h-3ZM176 893h3v1h-3Z" fill="#000000"/><path d="M173 890h1v1h-1ZM172 891h2v1h-2ZM171 892h4v1h-4ZM171 893h4v1h-4ZM171 894h4v1h-4ZM172 895h2v1h-2Z" fill="#000000"/><path d="M178 893h3v1h-3ZM186 893h3v1h-3Z" fill="#000000"/><path d="M183 890h1v1h-1ZM182 891h2v1h-2ZM181 892h4v1h-4ZM181 893h4v1h-4ZM181 894h4v1h-4ZM182 895h2v1h-2Z" fill="#000000"/><path d="M188 893h3v1h-3ZM196 893h3v1h-3Z" fill="#000000"/><path d="M193 890h1v1h-1ZM192 891h2v1h-2ZM191 892h4v1h-4ZM191 893h4v1h-4ZM191 894h4v1h-4ZM192 895h2v1h-2Z" fill="#000000"/><path d="M198 893h4v1h-4ZM207 893h3v1h-3Z" fill="#000000"/><path d="M204 890h1v1h-1ZM203 891h2v1h-2ZM202 892h4v1h-4ZM202 893h4v1h-4ZM202 894h4v1h-4ZM203 895h2v1h-2Z" fill="#000000"/><path d="M209 893h3v1h-3ZM217 893h3v1h-3Z" fill="#000000"/><path d="M214 890h1v1h-1ZM213 891h2v1h-2ZM212 892h4v1h-4ZM212 893h4v1h-4ZM212 894h4v1h-4ZM213 895h2v1h-2Z" fill="#000000"/><path d="M219 893h3v1h-3ZM227 893h3v1h-3Z" fill="#000000"/><path d="M224 890h1v1h-1ZM223 891h2v1h-2ZM222 892h4v1h-4ZM222 893h4v1h-4ZM222 894h4v1h-4ZM223 895h2v1h-2Z" fill="#000000"/><path d="M229 893h3v1h-3ZM237 893h3v1h-3Z" fill="#000000"/><path d="M234 890h1v1h-1ZM233 891h2v1h-2ZM232 892h4v1h-4ZM232 893h4v1h-4ZM232 894h4v1h-4ZM233 895h2v1h-2Z" fill="#000000"/><path d="M239 893h3v1h-3ZM247 893h4v1h-4Z" fill="#000000"/><path d="M244 890h1v1h-1ZM243 891h2v1h-2ZM242 892h4v1h-4ZM242 893h4v1h-4ZM242 894h4v1h-4ZM243 895h2v1h-2Z" fill="#000000"/><path d="M250 893h3v1h-3ZM258 893h3v1h-3Z" fill="#000000"/><path d="M255 890h1v1h-1ZM254 891h2v1h-2ZM253 892h4v1h-4ZM253 893h4v1h-4ZM253 894h4v1h-4ZM254 895h2v1h-2Z" fill="#000000"/><path d="M260 893h3v1h-3ZM268 893h3v1h-3Z" fill="#000000"/><path d="M265 890h1v1h-1ZM264 891h2v1h-2ZM263 892h4v1h-4ZM263 893h4v1h-4ZM263 894h4v1h-4ZM264 895h2v1h-2Z" fill="#000000"/><path d="M270 893h3v1h-3ZM278 893h3v1h-3Z" fill="#000000"/><path d="M275 890h1v1h-1ZM274 891h2v1h-2ZM273 892h4v1h-4ZM273 893h4v1h-4ZM273 894h4v1h-4ZM274 895h2v1h-2Z" fill="#000000"/><path d="M280 893h3v1h-3ZM288 893h3v1h-3Z" fill="#000000"/><path d="M285 890h1v1h-1ZM284 891h2v1h-2ZM283 892h4v1h-4ZM283 893h4v1h-4ZM283 894h4v1h-4ZM284 895h2v1h-2Z" fill="#000000"/><path d="M290 893h3v1h-3ZM298 893h4v1h-4Z" fill="#000000"/><path d="M295 890h1v1h-1ZM294 891h2v1h-2ZM293 892h4v1h-4ZM293 893h4v1h-4ZM293 894h4v1h-4ZM294 895h2v1h-2Z" fill="#000000"/><path d="M301 893h3v1h-3ZM309 893h3v1h-3Z" fill="#000000"/><path d="M306 890h1v1h-1ZM305 891h2v1h-2ZM304 892h4v1h-4ZM304 893h4v1h-4ZM304 894h4v1h-4ZM305 895h2v1h-2Z" fill="#000000"/><path d="M311 893h3v1h-3ZM319 893h3v1h-3Z" fill="#000000"/><path d="M316 890h1v1h-1ZM315 891h2v1h-2ZM314 892h4v1h-4ZM314 893h4v1h-4ZM314 894h4v1h-4ZM315 895h2v1h-2Z" fill="#000000"/><path d="M321 893h3v1h-3ZM329 893h3v1h-3Z" fill="#000000"/><path d="M326 890h1v1h-1ZM325 891h2v1h-2ZM324 892h4v1h-4ZM324 893h4v1h-4ZM324 894h4v1h-4ZM325 895h2v1h-2Z" fill="#000000"/><path d="M331 893h3v1h-3ZM339 893h3v1h-3Z" fill="#000000"/><path d="M336 890h1v1h-1ZM335 891h2v1h-2ZM334 892h4v1h-4ZM334 893h4v1h-4ZM334 894h4v1h-4ZM335 895h2v1h-2Z" fill="#000000"/><path d="M341 893h4v1h-4ZM350 893h3v1h-3Z" fill="#000000"/><path d="M347 890h1v1h-1ZM346 891h2v1h-2ZM345 892h4v1h-4ZM345 893h4v1h-4ZM345 894h4v1h-4ZM346 895h2v1h-2Z" fill="#000000"/><path d="M352 893h3v1h-3ZM360 893h3v1h-3Z" fill="#000000"/><path d="M357 890h1v1h-1ZM356 891h2v1h-2ZM355 892h4v1h-4ZM355 893h4v1h-4ZM355 894h4v1h-4ZM356 895h2v1h-2Z" fill="#000000"/><path d="M362 893h3v1h-3ZM370 893h3v1h-3Z" fill="#000000"/><path d="M367 890h1v1h-1ZM366 891h2v1h-2ZM365 892h4v1h-4ZM365 893h4v1h-4ZM365 894h4v1h-4ZM366 895h2v1h-2Z" fill="#000000"/><path d="M372 894h3v1h-3ZM380 894h3v1h-3Z" fill="#000000"/><path d="M377 891h1v1h-1ZM376 892h2v1h-2ZM375 893h4v1h-4ZM375 894h4v1h-4ZM375 895h4v1h-4ZM376 896h2v1h-2Z" fill="#000000"/><path d="M382 894h3v1h-3ZM390 894h3v1h-3Z" fill="#000000"/><path d="M387 891h1v1h-1ZM386 892h2v1h-2ZM385 893h4v1h-4ZM385 894h4v1h-4ZM385 895h4v1h-4ZM386 896h2v1h-2Z" fill="#000000"/><path d="M392 894h4v1h-4ZM401 894h3v1h-3Z" fill="#000000"/><path d="M398 891h1v1h-1ZM397 892h2v1h-2ZM396 893h4v1h-4ZM396 894h4v1h-4ZM396 895h4v1h-4ZM397 896h2v1h-2Z" fill="#000000"/><path d="M403 894h3v1h-3ZM411 894h3v1h-3Z" fill="#000000"/><path d="M408 891h1v1h-1ZM407 892h2v1h-2ZM406 893h4v1h-4ZM406 894h4v1h-4ZM406 895h4v1h-4ZM407 896h2v1h-2Z" fill="#000000"/><path d="M413 894h3v1h-3ZM421 894h3v1h-3Z" fill="#000000"/><path d="M418 891h1v1h-1ZM417 892h2v1h-2ZM416 893h4v1h-4ZM416 894h4v1h-4ZM416 895h4v1h-4ZM417 896h2v1h-2Z" fill="#000000"/><path d="M423 894h3v1h-3ZM431 894h3v1h-3Z" fill="#000000"/><path d="M428 891h1v1h-1ZM427 892h2v1h-2ZM426 893h4v1h-4ZM426 894h4v1h-4ZM426 895h4v1h-4ZM427 896h2v1h-2Z" fill="#000000"/><path d="M433 894h3v1h-3ZM441 894h4v1h-4Z" fill="#000000"/><path d="M438 891h1v1h-1ZM437 892h2v1h-2ZM436 893h4v1h-4ZM436 894h4v1h-4ZM436 895h4v1h-4ZM437 896h2v1h-2Z" fill="#000000"/><path d="M444 894h3v1h-3ZM452 894h3v1h-3Z" fill="#000000"/><path d="M449 891h1v1h-1ZM448 892h2v1h-2ZM447 893h4v1h-4ZM447 894h4v1h-4ZM447 895h4v1h-4ZM448 896h2v1h-2Z" fill="#000000"/><path d="M454 894h3v1h-3ZM462 894h3v1h-3Z" fill="#000000"/><path d="M459 891h1v1h-1ZM458 892h2v1h-2ZM457 893h4v1h-4ZM457 894h4v1h-4ZM457 895h4v1h-4ZM458 896h2v1h-2Z" fill="#000000"/><path d="M464 894h3v1h-3ZM472 894h3v1h-3Z" fill="#000000"/><path d="M469 891h1v1h-1ZM468 892h2v1h-2ZM467 893h4v1h-4ZM467 894h4v1h-4ZM467 895h4v1h-4ZM468 896h2v1h-2Z" fill="#000000"/><path d="M474 894h3v1h-3ZM482 894h3v1h-3Z" fill="#000000"/><path d="M479 891h1v1h-1ZM478 892h2v1h-2ZM477 893h4v1h-4ZM477 894h4v1h-4ZM477 895h4v1h-4ZM478 896h2v1h-2Z" fill="#000000"/><path d="M484 894h3v1h-3ZM492 894h4v1h-4Z" fill="#000000"/><path d="M489 891h1v1h-1ZM488 892h2v1h-2ZM487 893h4v1h-4ZM487 894h4v1h-4ZM487 895h4v1h-4ZM488 896h2v1h-2Z" fill="#000000"/><path d="M495 894h3v1h-3ZM503 894h3v1h-3Z" fill="#000000"/><path d="M500 891h1v1h-1ZM499 892h2v1h-2ZM498 893h4v1h-4ZM498 894h4v1h-4ZM498 895h4v1h-4ZM499 896h2v1h-2Z" fill="#000000"/><path d="M505 894h3v1h-3ZM513 894h3v1h-3Z" fill="#000000"/><path d="M510 891h1v1h-1ZM509 892h2v1h-2ZM508 893h4v1h-4ZM508 894h4v1h-4ZM508 895h4v1h-4ZM509 896h2v1h-2Z" fill="#000000"/><path d="M515 894h3v1h-3ZM523 894h3v1h-3Z" fill="#000000"/><path d="M520 891h1v1h-1ZM519 892h2v1h-2ZM518 893h4v1h-4ZM518 894h4v1h-4ZM518 895h4v1h-4ZM519 896h2v1h-2Z" fill="#000000"/><path d="M525 894h3v1h-3ZM533 894h3v1h-3Z" fill="#000000"/><path d="M530 891h1v1h-1ZM529 892h2v1h-2ZM528 893h4v1h-4ZM528 894h4v1h-4ZM528 895h4v1h-4ZM529 896h2v1h-2Z" fill="#000000"/><path d="M535 894h4v1h-4ZM544 894h3v1h-3Z" fill="#000000"/><path d="M541 891h1v1h-1ZM540 892h2v1h-2ZM539 893h4v1h-4ZM539 894h4v1h-4ZM539 895h4v1h-4ZM540 896h2v1h-2Z" fill="#000000"/><path d="M546 894h3v1h-3ZM554 894h3v1h-3Z" fill="#000000"/><path d="M551 891h1v1h-1ZM550 892h2v1h-2ZM549 893h4v1h-4ZM549 894h4v1h-4ZM549 895h4v1h-4ZM550 896h2v1h-2Z" fill="#000000"/><path d="M556 894h3v1h-3ZM564 894h3v1h-3Z" fill="#000000"/><path d="M561 891h1v1h-1ZM560 892h2v1h-2ZM559 893h4v1h-4ZM559 894h4v1h-4ZM559 895h4v1h-4ZM560 896h2v1h-2Z" fill="#000000"/><path d="M566 894h3v1h-3ZM574 894h3v1h-3Z" fill="#000000"/><path d="M571 891h1v1h-1ZM570 892h2v1h-2ZM569 893h4v1h-4ZM569 894h4v1h-4ZM569 895h4v1h-4ZM570 896h2v1h-2Z" fill="#000000"/><path d="M576 894h3v1h-3ZM584 894h3v1h-3Z" fill="#000000"/><path d="M581 891h1v1h-1ZM580 892h2v1h-2ZM579 893h4v1h-4ZM579 894h4v1h-4ZM579 895h4v1h-4ZM580 896h2v1h-2Z" fill="#000000"/><path d="M586 894h4v1h-4ZM595 894h3v1h-3Z" fill="#000000"/><path d="M592 891h1v1h-1ZM591 892h2v1h-2ZM590 893h4v1h-4ZM590 894h4v1h-4ZM590 895h4v1h-4ZM591 896h2v1h-2Z" fill="#000000"/><path d="M617 895h3v1h-3ZM625 895h3v1h-3Z" fill="#000000"/><path d="M622 892h1v1h-1ZM621 893h2v1h-2ZM620 894h4v1h-4ZM620 895h4v1h-4ZM620 896h4v1h-4ZM621 897h2v1h-2Z" fill="#000000"/><path d="M627 895h3v1h-3ZM635 895h4v1h-4Z" fill="#000000"/><path d="M632 892h1v1h-1ZM631 893h2v1h-2ZM630 894h4v1h-4ZM630 895h4v1h-4ZM630 896h4v1h-4ZM631 897h2v1h-2Z" fill="#000000"/><path d="M638 895h3v1h-3ZM646 895h3v1h-3Z" fill="#000000"/><path d="M643 892h1v1h-1ZM642 893h2v1h-2ZM641 894h4v1h-4ZM641 895h4v1h-4ZM641 896h4v1h-4ZM642 897h2v1h-2Z" fill="#000000"/><path d="M648 895h3v1h-3ZM656 895h3v1h-3Z" fill="#000000"/><path d="M653 892h1v1h-1ZM652 893h2v1h-2ZM651 894h4v1h-4ZM651 895h4v1h-4ZM651 896h4v1h-4ZM652 897h2v1h-2Z" fill="#000000"/><path d="M658 895h3v1h-3ZM666 895h3v1h-3Z" fill="#000000"/><path d="M663 892h1v1h-1ZM662 893h2v1h-2ZM661 894h4v1h-4ZM661 895h4v1h-4ZM661 896h4v1h-4ZM662 897h2v1h-2Z" fill="#000000"/><path d="M668 895h3v1h-3ZM676 895h3v1h-3Z" fill="#000000"/><path d="M673 892h1v1h-1ZM672 893h2v1h-2ZM671 894h4v1h-4ZM671 895h4v1h-4ZM671 896h4v1h-4ZM672 897h2v1h-2Z" fill="#000000"/><path d="M689 895h3v1h-3ZM697 895h3v1h-3Z" fill="#000000"/><path d="M694 892h1v1h-1ZM693 893h2v1h-2ZM692 894h4v1h-4ZM692 895h4v1h-4ZM692 896h4v1h-4ZM693 897h2v1h-2Z" fill="#000000"/><path d="M709 895h3v1h-3ZM717 895h3v1h-3Z" fill="#000000"/><path d="M714 892h1v1h-1ZM713 893h2v1h-2ZM712 894h4v1h-4ZM712 895h4v1h-4ZM712 896h4v1h-4ZM713 897h2v1h-2Z" fill="#000000"/><path d="M729 895h3v1h-3ZM737 895h4v1h-4Z" fill="#000000"/><path d="M734 892h1v1h-1ZM733 893h2v1h-2ZM732 894h4v1h-4ZM732 895h4v1h-4ZM732 896h4v1h-4ZM733 897h2v1h-2Z" fill="#000000"/><path d="M780 895h4v1h-4ZM789 895h3v1h-3Z" fill="#000000"/><path d="M786 892h1v1h-1ZM785 893h2v1h-2ZM784 894h4v1h-4ZM784 895h4v1h-4ZM784 896h4v1h-4ZM785 897h2v1h-2Z" fill="#000000"/><path d="M872 895h3v1h-3ZM880 895h4v1h-4Z" fill="#000000"/><path d="M877 892h1v1h-1ZM876 893h2v1h-2ZM875 894h4v1h-4ZM875 895h4v1h-4ZM875 896h4v1h-4ZM876 897h2v1h-2Z" fill="#000000"/><path d="M974 895h4v1h-4ZM983 895h3v1h-3Z" fill="#000000"/><path d="M980 892h1v1h-1ZM979 893h2v1h-2ZM978 894h4v1h-4ZM978 895h4v1h-4ZM978 896h4v1h-4ZM979 897h2v1h-2Z" fill="#000000"/>
</g>
<text transform="translate(105.83,906.90) scale(1,1.040)" font-size="28.00" text-anchor="start">0</text>
<path d="M100.76 827.20L100.76 806.96L98.26 806.96Q96.42 810.02 91.96 810.95L91.96 813.14Q94.74 812.64 96.56 811.48L96.56 827.20Z" fill="#000"/><text transform="translate(105.83,827.20) scale(1,1.040)" font-size="28.00" text-anchor="start">0</text>
<text transform="translate(90.26,747.50) scale(1,1.040)" font-size="28.00" text-anchor="start">2</text><text transform="translate(105.83,747.50) scale(1,1.040)" font-size="28.00" text-anchor="start">0</text>
<text transform="translate(90.26,667.80) scale(1,1.040)" font-size="28.00" text-anchor="start">3</text><text transform="translate(105.83,667.80) scale(1,1.040)" font-size="28.00" text-anchor="start">0</text>
<text transform="translate(90.26,588.10) scale(1,1.040)" font-size="28.00" text-anchor="start">4</text><text transform="translate(105.83,588.10) scale(1,1.040)" font-size="28.00" text-anchor="start">0</text>
<text transform="translate(90.26,508.40) scale(1,1.040)" font-size="28.00" text-anchor="start">5</text><text transform="translate(105.83,508.40) scale(1,1.040)" font-size="28.00" text-anchor="start">0</text>
<text transform="translate(90.26,428.70) scale(1,1.040)" font-size="28.00" text-anchor="start">6</text><text transform="translate(105.83,428.70) scale(1,1.040)" font-size="28.00" text-anchor="start">0</text>
<text transform="translate(90.26,349.00) scale(1,1.040)" font-size="28.00" text-anchor="start">7</text><text transform="translate(105.83,349.00) scale(1,1.040)" font-size="28.00" text-anchor="start">0</text>
<text transform="translate(90.26,269.30) scale(1,1.040)" font-size="28.00" text-anchor="start">8</text><text transform="translate(105.83,269.30) scale(1,1.040)" font-size="28.00" text-anchor="start">0</text>
<text transform="translate(90.26,189.60) scale(1,1.040)" font-size="28.00" text-anchor="start">9</text><text transform="translate(105.83,189.60) scale(1,1.040)" font-size="28.00" text-anchor="start">0</text>
<path d="M85.18 109.90L85.18 89.66L82.69 89.66Q80.84 92.72 76.39 93.65L76.39 95.84Q79.16 95.34 80.98 94.18L80.98 109.90Z" fill="#000"/><text transform="translate(90.26,109.90) scale(1,1.040)" font-size="28.00" text-anchor="start">0</text><text transform="translate(105.83,109.90) scale(1,1.040)" font-size="28.00" text-anchor="start">0</text>
<text transform="translate(305.32,935.30) scale(1,1.040)" font-size="28.00" text-anchor="start">2</text><text transform="translate(320.89,935.30) scale(1,1.040)" font-size="28.00" text-anchor="start">0</text>
<text transform="translate(509.52,935.30) scale(1,1.040)" font-size="28.00" text-anchor="start">4</text><text transform="translate(525.09,935.30) scale(1,1.040)" font-size="28.00" text-anchor="start">0</text>
<text transform="translate(713.72,935.30) scale(1,1.040)" font-size="28.00" text-anchor="start">6</text><text transform="translate(729.29,935.30) scale(1,1.040)" font-size="28.00" text-anchor="start">0</text>
<text transform="translate(917.92,935.30) scale(1,1.040)" font-size="28.00" text-anchor="start">8</text><text transform="translate(933.49,935.30) scale(1,1.040)" font-size="28.00" text-anchor="start">0</text>
<path d="M1124.83 935.30L1124.83 915.06L1122.34 915.06Q1120.49 918.12 1116.04 919.05L1116.04 921.24Q1118.81 920.74 1120.63 919.58L1120.63 935.30Z" fill="#000"/><text transform="translate(1129.90,935.30) scale(1,1.040)" font-size="28.00" text-anchor="start">0</text><text transform="translate(1145.48,935.30) scale(1,1.040)" font-size="28.00" text-anchor="start">0</text>
<path d="M1152.5 881.5L1166.5 895.5M1166.5 881.5L1152.5 895.5" stroke="#000" stroke-width="1.5"/>
<path d="M1177.30 896.00L1177.30 875.76L1174.81 875.76Q1172.96 878.82 1168.51 879.75L1168.51 881.94Q1171.28 881.44 1173.10 880.28L1173.10 896.00Z" fill="#000"/><text transform="translate(1182.37,896.00) scale(1,1.040)" font-size="28.00" text-anchor="start">0</text>
<text transform="translate(1197.00,882.30) scale(1,1.040)" font-size="19.50" text-anchor="start">3</text>
<text transform="translate(1147.60,970.80) scale(1,1.040)" font-size="28.00" text-anchor="end">Long Pion Momentum <tspan font-weight="normal">/</tspan> MeV<tspan font-weight="normal">/</tspan>c</text>
<text transform="translate(48.5,98) rotate(-90) scale(1,1.040)" font-size="28" text-anchor="end">Efficiency <tspan font-weight="normal">/ %</tspan></text>
<rect x="599" y="250" width="87" height="3" fill="#000" shape-rendering="crispEdges"/>
<rect x="683" y="105" width="3" height="148" fill="#000" shape-rendering="crispEdges"/>
<rect x="593.5" y="99.5" width="89.0" height="150.0" fill="#fff" stroke="#000" stroke-width="1" shape-rendering="crispEdges"/>
<g shape-rendering="crispEdges">
<path d="M598 109h1v1h1v2h1v3h-6v-2h1v-1h1v-2h1Z" fill="#ff0000"/>
<path d="M598 131h1v1h-1ZM596 132h5v1h-5ZM595 133h7v1h-7ZM595 134h7v1h-7ZM595 135h7v1h-7ZM595 136h7v1h-7ZM596 137h5v1h-5ZM597 138h3v1h-3Z" fill="#0000ff"/>
<path d="M594 157h7v1h-7ZM595 158h6v1h-6ZM596 159h5v1h-5ZM596 160h4v1h-4ZM597 161h3v1h-3ZM597 162h2v1h-2ZM598 163h1v1h-1Z" fill="#009900"/>
<path d="M594 182h6v1h-6ZM594 183h6v1h-6ZM594 184h6v1h-6ZM594 185h6v1h-6ZM594 186h6v1h-6ZM594 187h6v1h-6Z" fill="#990099"/>
<path d="M596 207h3v1h-3ZM596 208h3v1h-3ZM594 209h7v1h-7ZM594 210h7v1h-7ZM594 211h7v1h-7ZM596 212h3v1h-3ZM596 213h3v1h-3Z" fill="#66cccc"/>
<path d="M597 233h1v1h-1ZM596 234h2v1h-2ZM595 235h4v1h-4ZM595 236h4v1h-4ZM595 237h4v1h-4ZM596 238h2v1h-2Z" fill="#000000"/>
</g>
<text transform="translate(604.20,116.90) scale(1,1.040)" font-size="19.20" text-anchor="start">Electron</text>
<text transform="translate(604.20,141.90) scale(1,1.040)" font-size="19.20" text-anchor="start">Muon</text>
<text transform="translate(604.20,166.90) scale(1,1.040)" font-size="19.20" text-anchor="start">Pion</text>
<text transform="translate(604.20,191.90) scale(1,1.040)" font-size="19.20" text-anchor="start">Kaon</text>
<text transform="translate(604.20,216.90) scale(1,1.040)" font-size="19.20" text-anchor="start">Proton</text>
<text transform="translate(604.20,241.90) scale(1,1.040)" font-size="19.20" text-anchor="start">Ghost</text>
</svg></body></html>
